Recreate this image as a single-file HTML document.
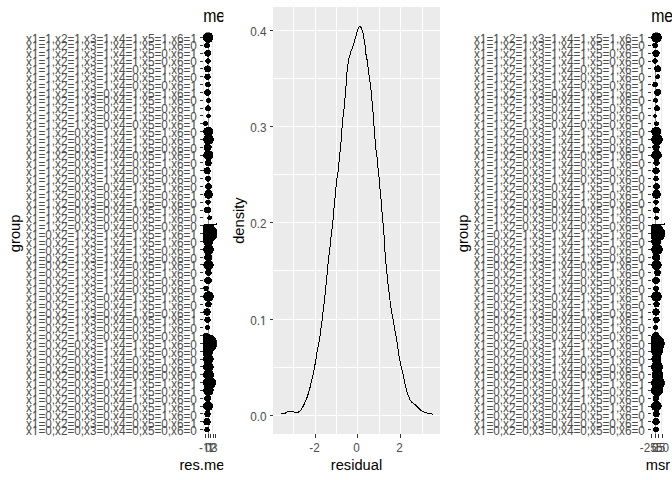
<!DOCTYPE html>
<html><head><meta charset="utf-8"><title>plot</title>
<style>html,body{margin:0;padding:0;background:#fff;width:672px;height:480px;overflow:hidden}svg{display:block}</style>
</head><body>
<svg width="672" height="480" viewBox="0 0 672 480" font-family="Liberation Sans, Arial, sans-serif">
<defs><clipPath id="c0"><rect x="203" y="32.4" width="13.9" height="401.6"/></clipPath><clipPath id="c448"><rect x="651" y="32.4" width="13.9" height="401.6"/></clipPath><clipPath id="p1"><rect x="0" y="0" width="223.4" height="480"/></clipPath></defs>
<rect width="672" height="480" fill="#fff"/>
<g clip-path="url(#p1)">
<text transform="translate(203.20,21.50) scale(0.92,1.04)" font-size="17.2" fill="#000">mean</text>
<text transform="translate(19.6,233.4) rotate(-90)" text-anchor="middle" font-size="14.67" fill="#000">group</text>
<text transform="translate(26.03,43.00) scale(1,1.1)" font-size="11.73" fill="#4D4D4D"><tspan x="0.00">x</tspan><tspan x="5.40" font-family="NanumGothic, Liberation Sans, sans-serif" stroke="#4D4D4D" stroke-width="0.3">1</tspan><tspan x="12.39">=</tspan><tspan x="18.77" font-family="NanumGothic, Liberation Sans, sans-serif" stroke="#4D4D4D" stroke-width="0.3">1</tspan><tspan x="25.76">,x2=</tspan><tspan x="47.79" font-family="NanumGothic, Liberation Sans, sans-serif" stroke="#4D4D4D" stroke-width="0.3">1</tspan><tspan x="54.78">,x3=</tspan><tspan x="76.81" font-family="NanumGothic, Liberation Sans, sans-serif" stroke="#4D4D4D" stroke-width="0.3">1</tspan><tspan x="83.81">,x4=</tspan><tspan x="105.83" font-family="NanumGothic, Liberation Sans, sans-serif" stroke="#4D4D4D" stroke-width="0.3">1</tspan><tspan x="112.83">,x5=</tspan><tspan x="134.86" font-family="NanumGothic, Liberation Sans, sans-serif" stroke="#4D4D4D" stroke-width="0.3">1</tspan><tspan x="141.85">,x6=</tspan><tspan x="163.88" font-family="NanumGothic, Liberation Sans, sans-serif" stroke="#4D4D4D" stroke-width="0.3">1</tspan></text>
<text transform="translate(26.03,50.00) scale(1,1.1)" font-size="11.73" fill="#4D4D4D"><tspan x="0.00">x</tspan><tspan x="5.40" font-family="NanumGothic, Liberation Sans, sans-serif" stroke="#4D4D4D" stroke-width="0.3">1</tspan><tspan x="12.39">=</tspan><tspan x="18.77" font-family="NanumGothic, Liberation Sans, sans-serif" stroke="#4D4D4D" stroke-width="0.3">1</tspan><tspan x="25.76">,x2=</tspan><tspan x="47.79" font-family="NanumGothic, Liberation Sans, sans-serif" stroke="#4D4D4D" stroke-width="0.3">1</tspan><tspan x="54.78">,x3=</tspan><tspan x="76.81" font-family="NanumGothic, Liberation Sans, sans-serif" stroke="#4D4D4D" stroke-width="0.3">1</tspan><tspan x="83.81">,x4=</tspan><tspan x="105.83" font-family="NanumGothic, Liberation Sans, sans-serif" stroke="#4D4D4D" stroke-width="0.3">1</tspan><tspan x="112.83">,x5=</tspan><tspan x="134.86" font-family="NanumGothic, Liberation Sans, sans-serif" stroke="#4D4D4D" stroke-width="0.3">1</tspan><tspan x="141.85">,x6=0</tspan></text>
<text transform="translate(26.03,58.00) scale(1,1.1)" font-size="11.73" fill="#4D4D4D"><tspan x="0.00">x</tspan><tspan x="5.40" font-family="NanumGothic, Liberation Sans, sans-serif" stroke="#4D4D4D" stroke-width="0.3">1</tspan><tspan x="12.39">=</tspan><tspan x="18.77" font-family="NanumGothic, Liberation Sans, sans-serif" stroke="#4D4D4D" stroke-width="0.3">1</tspan><tspan x="25.76">,x2=</tspan><tspan x="47.79" font-family="NanumGothic, Liberation Sans, sans-serif" stroke="#4D4D4D" stroke-width="0.3">1</tspan><tspan x="54.78">,x3=</tspan><tspan x="76.81" font-family="NanumGothic, Liberation Sans, sans-serif" stroke="#4D4D4D" stroke-width="0.3">1</tspan><tspan x="83.81">,x4=</tspan><tspan x="105.83" font-family="NanumGothic, Liberation Sans, sans-serif" stroke="#4D4D4D" stroke-width="0.3">1</tspan><tspan x="112.83">,x5=0,x6=</tspan><tspan x="163.88" font-family="NanumGothic, Liberation Sans, sans-serif" stroke="#4D4D4D" stroke-width="0.3">1</tspan></text>
<text transform="translate(26.03,66.00) scale(1,1.1)" font-size="11.73" fill="#4D4D4D"><tspan x="0.00">x</tspan><tspan x="5.40" font-family="NanumGothic, Liberation Sans, sans-serif" stroke="#4D4D4D" stroke-width="0.3">1</tspan><tspan x="12.39">=</tspan><tspan x="18.77" font-family="NanumGothic, Liberation Sans, sans-serif" stroke="#4D4D4D" stroke-width="0.3">1</tspan><tspan x="25.76">,x2=</tspan><tspan x="47.79" font-family="NanumGothic, Liberation Sans, sans-serif" stroke="#4D4D4D" stroke-width="0.3">1</tspan><tspan x="54.78">,x3=</tspan><tspan x="76.81" font-family="NanumGothic, Liberation Sans, sans-serif" stroke="#4D4D4D" stroke-width="0.3">1</tspan><tspan x="83.81">,x4=</tspan><tspan x="105.83" font-family="NanumGothic, Liberation Sans, sans-serif" stroke="#4D4D4D" stroke-width="0.3">1</tspan><tspan x="112.83">,x5=0,x6=0</tspan></text>
<text transform="translate(26.03,74.00) scale(1,1.1)" font-size="11.73" fill="#4D4D4D"><tspan x="0.00">x</tspan><tspan x="5.40" font-family="NanumGothic, Liberation Sans, sans-serif" stroke="#4D4D4D" stroke-width="0.3">1</tspan><tspan x="12.39">=</tspan><tspan x="18.77" font-family="NanumGothic, Liberation Sans, sans-serif" stroke="#4D4D4D" stroke-width="0.3">1</tspan><tspan x="25.76">,x2=</tspan><tspan x="47.79" font-family="NanumGothic, Liberation Sans, sans-serif" stroke="#4D4D4D" stroke-width="0.3">1</tspan><tspan x="54.78">,x3=</tspan><tspan x="76.81" font-family="NanumGothic, Liberation Sans, sans-serif" stroke="#4D4D4D" stroke-width="0.3">1</tspan><tspan x="83.81">,x4=0,x5=</tspan><tspan x="134.86" font-family="NanumGothic, Liberation Sans, sans-serif" stroke="#4D4D4D" stroke-width="0.3">1</tspan><tspan x="141.85">,x6=</tspan><tspan x="163.88" font-family="NanumGothic, Liberation Sans, sans-serif" stroke="#4D4D4D" stroke-width="0.3">1</tspan></text>
<text transform="translate(26.03,82.00) scale(1,1.1)" font-size="11.73" fill="#4D4D4D"><tspan x="0.00">x</tspan><tspan x="5.40" font-family="NanumGothic, Liberation Sans, sans-serif" stroke="#4D4D4D" stroke-width="0.3">1</tspan><tspan x="12.39">=</tspan><tspan x="18.77" font-family="NanumGothic, Liberation Sans, sans-serif" stroke="#4D4D4D" stroke-width="0.3">1</tspan><tspan x="25.76">,x2=</tspan><tspan x="47.79" font-family="NanumGothic, Liberation Sans, sans-serif" stroke="#4D4D4D" stroke-width="0.3">1</tspan><tspan x="54.78">,x3=</tspan><tspan x="76.81" font-family="NanumGothic, Liberation Sans, sans-serif" stroke="#4D4D4D" stroke-width="0.3">1</tspan><tspan x="83.81">,x4=0,x5=</tspan><tspan x="134.86" font-family="NanumGothic, Liberation Sans, sans-serif" stroke="#4D4D4D" stroke-width="0.3">1</tspan><tspan x="141.85">,x6=0</tspan></text>
<text transform="translate(26.03,90.00) scale(1,1.1)" font-size="11.73" fill="#4D4D4D"><tspan x="0.00">x</tspan><tspan x="5.40" font-family="NanumGothic, Liberation Sans, sans-serif" stroke="#4D4D4D" stroke-width="0.3">1</tspan><tspan x="12.39">=</tspan><tspan x="18.77" font-family="NanumGothic, Liberation Sans, sans-serif" stroke="#4D4D4D" stroke-width="0.3">1</tspan><tspan x="25.76">,x2=</tspan><tspan x="47.79" font-family="NanumGothic, Liberation Sans, sans-serif" stroke="#4D4D4D" stroke-width="0.3">1</tspan><tspan x="54.78">,x3=</tspan><tspan x="76.81" font-family="NanumGothic, Liberation Sans, sans-serif" stroke="#4D4D4D" stroke-width="0.3">1</tspan><tspan x="83.81">,x4=0,x5=0,x6=</tspan><tspan x="163.88" font-family="NanumGothic, Liberation Sans, sans-serif" stroke="#4D4D4D" stroke-width="0.3">1</tspan></text>
<text transform="translate(26.03,98.00) scale(1,1.1)" font-size="11.73" fill="#4D4D4D"><tspan x="0.00">x</tspan><tspan x="5.40" font-family="NanumGothic, Liberation Sans, sans-serif" stroke="#4D4D4D" stroke-width="0.3">1</tspan><tspan x="12.39">=</tspan><tspan x="18.77" font-family="NanumGothic, Liberation Sans, sans-serif" stroke="#4D4D4D" stroke-width="0.3">1</tspan><tspan x="25.76">,x2=</tspan><tspan x="47.79" font-family="NanumGothic, Liberation Sans, sans-serif" stroke="#4D4D4D" stroke-width="0.3">1</tspan><tspan x="54.78">,x3=0,x4=</tspan><tspan x="105.83" font-family="NanumGothic, Liberation Sans, sans-serif" stroke="#4D4D4D" stroke-width="0.3">1</tspan><tspan x="112.83">,x5=</tspan><tspan x="134.86" font-family="NanumGothic, Liberation Sans, sans-serif" stroke="#4D4D4D" stroke-width="0.3">1</tspan><tspan x="141.85">,x6=</tspan><tspan x="163.88" font-family="NanumGothic, Liberation Sans, sans-serif" stroke="#4D4D4D" stroke-width="0.3">1</tspan></text>
<text transform="translate(26.03,105.00) scale(1,1.1)" font-size="11.73" fill="#4D4D4D"><tspan x="0.00">x</tspan><tspan x="5.40" font-family="NanumGothic, Liberation Sans, sans-serif" stroke="#4D4D4D" stroke-width="0.3">1</tspan><tspan x="12.39">=</tspan><tspan x="18.77" font-family="NanumGothic, Liberation Sans, sans-serif" stroke="#4D4D4D" stroke-width="0.3">1</tspan><tspan x="25.76">,x2=</tspan><tspan x="47.79" font-family="NanumGothic, Liberation Sans, sans-serif" stroke="#4D4D4D" stroke-width="0.3">1</tspan><tspan x="54.78">,x3=0,x4=</tspan><tspan x="105.83" font-family="NanumGothic, Liberation Sans, sans-serif" stroke="#4D4D4D" stroke-width="0.3">1</tspan><tspan x="112.83">,x5=</tspan><tspan x="134.86" font-family="NanumGothic, Liberation Sans, sans-serif" stroke="#4D4D4D" stroke-width="0.3">1</tspan><tspan x="141.85">,x6=0</tspan></text>
<text transform="translate(26.03,113.00) scale(1,1.1)" font-size="11.73" fill="#4D4D4D"><tspan x="0.00">x</tspan><tspan x="5.40" font-family="NanumGothic, Liberation Sans, sans-serif" stroke="#4D4D4D" stroke-width="0.3">1</tspan><tspan x="12.39">=</tspan><tspan x="18.77" font-family="NanumGothic, Liberation Sans, sans-serif" stroke="#4D4D4D" stroke-width="0.3">1</tspan><tspan x="25.76">,x2=</tspan><tspan x="47.79" font-family="NanumGothic, Liberation Sans, sans-serif" stroke="#4D4D4D" stroke-width="0.3">1</tspan><tspan x="54.78">,x3=0,x4=</tspan><tspan x="105.83" font-family="NanumGothic, Liberation Sans, sans-serif" stroke="#4D4D4D" stroke-width="0.3">1</tspan><tspan x="112.83">,x5=0,x6=</tspan><tspan x="163.88" font-family="NanumGothic, Liberation Sans, sans-serif" stroke="#4D4D4D" stroke-width="0.3">1</tspan></text>
<text transform="translate(26.03,121.00) scale(1,1.1)" font-size="11.73" fill="#4D4D4D"><tspan x="0.00">x</tspan><tspan x="5.40" font-family="NanumGothic, Liberation Sans, sans-serif" stroke="#4D4D4D" stroke-width="0.3">1</tspan><tspan x="12.39">=</tspan><tspan x="18.77" font-family="NanumGothic, Liberation Sans, sans-serif" stroke="#4D4D4D" stroke-width="0.3">1</tspan><tspan x="25.76">,x2=</tspan><tspan x="47.79" font-family="NanumGothic, Liberation Sans, sans-serif" stroke="#4D4D4D" stroke-width="0.3">1</tspan><tspan x="54.78">,x3=0,x4=</tspan><tspan x="105.83" font-family="NanumGothic, Liberation Sans, sans-serif" stroke="#4D4D4D" stroke-width="0.3">1</tspan><tspan x="112.83">,x5=0,x6=0</tspan></text>
<text transform="translate(26.03,129.00) scale(1,1.1)" font-size="11.73" fill="#4D4D4D"><tspan x="0.00">x</tspan><tspan x="5.40" font-family="NanumGothic, Liberation Sans, sans-serif" stroke="#4D4D4D" stroke-width="0.3">1</tspan><tspan x="12.39">=</tspan><tspan x="18.77" font-family="NanumGothic, Liberation Sans, sans-serif" stroke="#4D4D4D" stroke-width="0.3">1</tspan><tspan x="25.76">,x2=</tspan><tspan x="47.79" font-family="NanumGothic, Liberation Sans, sans-serif" stroke="#4D4D4D" stroke-width="0.3">1</tspan><tspan x="54.78">,x3=0,x4=0,x5=0,x6=</tspan><tspan x="163.88" font-family="NanumGothic, Liberation Sans, sans-serif" stroke="#4D4D4D" stroke-width="0.3">1</tspan></text>
<text transform="translate(26.03,137.00) scale(1,1.1)" font-size="11.73" fill="#4D4D4D"><tspan x="0.00">x</tspan><tspan x="5.40" font-family="NanumGothic, Liberation Sans, sans-serif" stroke="#4D4D4D" stroke-width="0.3">1</tspan><tspan x="12.39">=</tspan><tspan x="18.77" font-family="NanumGothic, Liberation Sans, sans-serif" stroke="#4D4D4D" stroke-width="0.3">1</tspan><tspan x="25.76">,x2=0,x3=</tspan><tspan x="76.81" font-family="NanumGothic, Liberation Sans, sans-serif" stroke="#4D4D4D" stroke-width="0.3">1</tspan><tspan x="83.81">,x4=</tspan><tspan x="105.83" font-family="NanumGothic, Liberation Sans, sans-serif" stroke="#4D4D4D" stroke-width="0.3">1</tspan><tspan x="112.83">,x5=</tspan><tspan x="134.86" font-family="NanumGothic, Liberation Sans, sans-serif" stroke="#4D4D4D" stroke-width="0.3">1</tspan><tspan x="141.85">,x6=0</tspan></text>
<text transform="translate(26.03,145.00) scale(1,1.1)" font-size="11.73" fill="#4D4D4D"><tspan x="0.00">x</tspan><tspan x="5.40" font-family="NanumGothic, Liberation Sans, sans-serif" stroke="#4D4D4D" stroke-width="0.3">1</tspan><tspan x="12.39">=</tspan><tspan x="18.77" font-family="NanumGothic, Liberation Sans, sans-serif" stroke="#4D4D4D" stroke-width="0.3">1</tspan><tspan x="25.76">,x2=0,x3=</tspan><tspan x="76.81" font-family="NanumGothic, Liberation Sans, sans-serif" stroke="#4D4D4D" stroke-width="0.3">1</tspan><tspan x="83.81">,x4=</tspan><tspan x="105.83" font-family="NanumGothic, Liberation Sans, sans-serif" stroke="#4D4D4D" stroke-width="0.3">1</tspan><tspan x="112.83">,x5=0,x6=</tspan><tspan x="163.88" font-family="NanumGothic, Liberation Sans, sans-serif" stroke="#4D4D4D" stroke-width="0.3">1</tspan></text>
<text transform="translate(26.03,153.00) scale(1,1.1)" font-size="11.73" fill="#4D4D4D"><tspan x="0.00">x</tspan><tspan x="5.40" font-family="NanumGothic, Liberation Sans, sans-serif" stroke="#4D4D4D" stroke-width="0.3">1</tspan><tspan x="12.39">=</tspan><tspan x="18.77" font-family="NanumGothic, Liberation Sans, sans-serif" stroke="#4D4D4D" stroke-width="0.3">1</tspan><tspan x="25.76">,x2=0,x3=</tspan><tspan x="76.81" font-family="NanumGothic, Liberation Sans, sans-serif" stroke="#4D4D4D" stroke-width="0.3">1</tspan><tspan x="83.81">,x4=</tspan><tspan x="105.83" font-family="NanumGothic, Liberation Sans, sans-serif" stroke="#4D4D4D" stroke-width="0.3">1</tspan><tspan x="112.83">,x5=0,x6=0</tspan></text>
<text transform="translate(26.03,160.00) scale(1,1.1)" font-size="11.73" fill="#4D4D4D"><tspan x="0.00">x</tspan><tspan x="5.40" font-family="NanumGothic, Liberation Sans, sans-serif" stroke="#4D4D4D" stroke-width="0.3">1</tspan><tspan x="12.39">=</tspan><tspan x="18.77" font-family="NanumGothic, Liberation Sans, sans-serif" stroke="#4D4D4D" stroke-width="0.3">1</tspan><tspan x="25.76">,x2=0,x3=</tspan><tspan x="76.81" font-family="NanumGothic, Liberation Sans, sans-serif" stroke="#4D4D4D" stroke-width="0.3">1</tspan><tspan x="83.81">,x4=0,x5=</tspan><tspan x="134.86" font-family="NanumGothic, Liberation Sans, sans-serif" stroke="#4D4D4D" stroke-width="0.3">1</tspan><tspan x="141.85">,x6=</tspan><tspan x="163.88" font-family="NanumGothic, Liberation Sans, sans-serif" stroke="#4D4D4D" stroke-width="0.3">1</tspan></text>
<text transform="translate(26.03,168.00) scale(1,1.1)" font-size="11.73" fill="#4D4D4D"><tspan x="0.00">x</tspan><tspan x="5.40" font-family="NanumGothic, Liberation Sans, sans-serif" stroke="#4D4D4D" stroke-width="0.3">1</tspan><tspan x="12.39">=</tspan><tspan x="18.77" font-family="NanumGothic, Liberation Sans, sans-serif" stroke="#4D4D4D" stroke-width="0.3">1</tspan><tspan x="25.76">,x2=0,x3=</tspan><tspan x="76.81" font-family="NanumGothic, Liberation Sans, sans-serif" stroke="#4D4D4D" stroke-width="0.3">1</tspan><tspan x="83.81">,x4=0,x5=</tspan><tspan x="134.86" font-family="NanumGothic, Liberation Sans, sans-serif" stroke="#4D4D4D" stroke-width="0.3">1</tspan><tspan x="141.85">,x6=0</tspan></text>
<text transform="translate(26.03,176.00) scale(1,1.1)" font-size="11.73" fill="#4D4D4D"><tspan x="0.00">x</tspan><tspan x="5.40" font-family="NanumGothic, Liberation Sans, sans-serif" stroke="#4D4D4D" stroke-width="0.3">1</tspan><tspan x="12.39">=</tspan><tspan x="18.77" font-family="NanumGothic, Liberation Sans, sans-serif" stroke="#4D4D4D" stroke-width="0.3">1</tspan><tspan x="25.76">,x2=0,x3=</tspan><tspan x="76.81" font-family="NanumGothic, Liberation Sans, sans-serif" stroke="#4D4D4D" stroke-width="0.3">1</tspan><tspan x="83.81">,x4=0,x5=0,x6=</tspan><tspan x="163.88" font-family="NanumGothic, Liberation Sans, sans-serif" stroke="#4D4D4D" stroke-width="0.3">1</tspan></text>
<text transform="translate(26.03,184.00) scale(1,1.1)" font-size="11.73" fill="#4D4D4D"><tspan x="0.00">x</tspan><tspan x="5.40" font-family="NanumGothic, Liberation Sans, sans-serif" stroke="#4D4D4D" stroke-width="0.3">1</tspan><tspan x="12.39">=</tspan><tspan x="18.77" font-family="NanumGothic, Liberation Sans, sans-serif" stroke="#4D4D4D" stroke-width="0.3">1</tspan><tspan x="25.76">,x2=0,x3=</tspan><tspan x="76.81" font-family="NanumGothic, Liberation Sans, sans-serif" stroke="#4D4D4D" stroke-width="0.3">1</tspan><tspan x="83.81">,x4=0,x5=0,x6=0</tspan></text>
<text transform="translate(26.03,192.00) scale(1,1.1)" font-size="11.73" fill="#4D4D4D"><tspan x="0.00">x</tspan><tspan x="5.40" font-family="NanumGothic, Liberation Sans, sans-serif" stroke="#4D4D4D" stroke-width="0.3">1</tspan><tspan x="12.39">=</tspan><tspan x="18.77" font-family="NanumGothic, Liberation Sans, sans-serif" stroke="#4D4D4D" stroke-width="0.3">1</tspan><tspan x="25.76">,x2=0,x3=0,x4=</tspan><tspan x="105.83" font-family="NanumGothic, Liberation Sans, sans-serif" stroke="#4D4D4D" stroke-width="0.3">1</tspan><tspan x="112.83">,x5=</tspan><tspan x="134.86" font-family="NanumGothic, Liberation Sans, sans-serif" stroke="#4D4D4D" stroke-width="0.3">1</tspan><tspan x="141.85">,x6=0</tspan></text>
<text transform="translate(26.03,200.00) scale(1,1.1)" font-size="11.73" fill="#4D4D4D"><tspan x="0.00">x</tspan><tspan x="5.40" font-family="NanumGothic, Liberation Sans, sans-serif" stroke="#4D4D4D" stroke-width="0.3">1</tspan><tspan x="12.39">=</tspan><tspan x="18.77" font-family="NanumGothic, Liberation Sans, sans-serif" stroke="#4D4D4D" stroke-width="0.3">1</tspan><tspan x="25.76">,x2=0,x3=0,x4=</tspan><tspan x="105.83" font-family="NanumGothic, Liberation Sans, sans-serif" stroke="#4D4D4D" stroke-width="0.3">1</tspan><tspan x="112.83">,x5=0,x6=</tspan><tspan x="163.88" font-family="NanumGothic, Liberation Sans, sans-serif" stroke="#4D4D4D" stroke-width="0.3">1</tspan></text>
<text transform="translate(26.03,208.00) scale(1,1.1)" font-size="11.73" fill="#4D4D4D"><tspan x="0.00">x</tspan><tspan x="5.40" font-family="NanumGothic, Liberation Sans, sans-serif" stroke="#4D4D4D" stroke-width="0.3">1</tspan><tspan x="12.39">=</tspan><tspan x="18.77" font-family="NanumGothic, Liberation Sans, sans-serif" stroke="#4D4D4D" stroke-width="0.3">1</tspan><tspan x="25.76">,x2=0,x3=0,x4=</tspan><tspan x="105.83" font-family="NanumGothic, Liberation Sans, sans-serif" stroke="#4D4D4D" stroke-width="0.3">1</tspan><tspan x="112.83">,x5=0,x6=0</tspan></text>
<text transform="translate(26.03,215.00) scale(1,1.1)" font-size="11.73" fill="#4D4D4D"><tspan x="0.00">x</tspan><tspan x="5.40" font-family="NanumGothic, Liberation Sans, sans-serif" stroke="#4D4D4D" stroke-width="0.3">1</tspan><tspan x="12.39">=</tspan><tspan x="18.77" font-family="NanumGothic, Liberation Sans, sans-serif" stroke="#4D4D4D" stroke-width="0.3">1</tspan><tspan x="25.76">,x2=0,x3=0,x4=0,x5=</tspan><tspan x="134.86" font-family="NanumGothic, Liberation Sans, sans-serif" stroke="#4D4D4D" stroke-width="0.3">1</tspan><tspan x="141.85">,x6=</tspan><tspan x="163.88" font-family="NanumGothic, Liberation Sans, sans-serif" stroke="#4D4D4D" stroke-width="0.3">1</tspan></text>
<text transform="translate(26.03,223.00) scale(1,1.1)" font-size="11.73" fill="#4D4D4D"><tspan x="0.00">x</tspan><tspan x="5.40" font-family="NanumGothic, Liberation Sans, sans-serif" stroke="#4D4D4D" stroke-width="0.3">1</tspan><tspan x="12.39">=</tspan><tspan x="18.77" font-family="NanumGothic, Liberation Sans, sans-serif" stroke="#4D4D4D" stroke-width="0.3">1</tspan><tspan x="25.76">,x2=0,x3=0,x4=0,x5=</tspan><tspan x="134.86" font-family="NanumGothic, Liberation Sans, sans-serif" stroke="#4D4D4D" stroke-width="0.3">1</tspan><tspan x="141.85">,x6=0</tspan></text>
<text transform="translate(26.03,231.00) scale(1,1.1)" font-size="11.73" fill="#4D4D4D"><tspan x="0.00">x</tspan><tspan x="5.40" font-family="NanumGothic, Liberation Sans, sans-serif" stroke="#4D4D4D" stroke-width="0.3">1</tspan><tspan x="12.39">=</tspan><tspan x="18.77" font-family="NanumGothic, Liberation Sans, sans-serif" stroke="#4D4D4D" stroke-width="0.3">1</tspan><tspan x="25.76">,x2=0,x3=0,x4=0,x5=0,x6=0</tspan></text>
<text transform="translate(26.03,239.00) scale(1,1.1)" font-size="11.73" fill="#4D4D4D"><tspan x="0.00">x</tspan><tspan x="5.40" font-family="NanumGothic, Liberation Sans, sans-serif" stroke="#4D4D4D" stroke-width="0.3">1</tspan><tspan x="12.39">=0,x2=</tspan><tspan x="47.79" font-family="NanumGothic, Liberation Sans, sans-serif" stroke="#4D4D4D" stroke-width="0.3">1</tspan><tspan x="54.78">,x3=</tspan><tspan x="76.81" font-family="NanumGothic, Liberation Sans, sans-serif" stroke="#4D4D4D" stroke-width="0.3">1</tspan><tspan x="83.81">,x4=</tspan><tspan x="105.83" font-family="NanumGothic, Liberation Sans, sans-serif" stroke="#4D4D4D" stroke-width="0.3">1</tspan><tspan x="112.83">,x5=</tspan><tspan x="134.86" font-family="NanumGothic, Liberation Sans, sans-serif" stroke="#4D4D4D" stroke-width="0.3">1</tspan><tspan x="141.85">,x6=</tspan><tspan x="163.88" font-family="NanumGothic, Liberation Sans, sans-serif" stroke="#4D4D4D" stroke-width="0.3">1</tspan></text>
<text transform="translate(26.03,247.00) scale(1,1.1)" font-size="11.73" fill="#4D4D4D"><tspan x="0.00">x</tspan><tspan x="5.40" font-family="NanumGothic, Liberation Sans, sans-serif" stroke="#4D4D4D" stroke-width="0.3">1</tspan><tspan x="12.39">=0,x2=</tspan><tspan x="47.79" font-family="NanumGothic, Liberation Sans, sans-serif" stroke="#4D4D4D" stroke-width="0.3">1</tspan><tspan x="54.78">,x3=</tspan><tspan x="76.81" font-family="NanumGothic, Liberation Sans, sans-serif" stroke="#4D4D4D" stroke-width="0.3">1</tspan><tspan x="83.81">,x4=</tspan><tspan x="105.83" font-family="NanumGothic, Liberation Sans, sans-serif" stroke="#4D4D4D" stroke-width="0.3">1</tspan><tspan x="112.83">,x5=</tspan><tspan x="134.86" font-family="NanumGothic, Liberation Sans, sans-serif" stroke="#4D4D4D" stroke-width="0.3">1</tspan><tspan x="141.85">,x6=0</tspan></text>
<text transform="translate(26.03,255.00) scale(1,1.1)" font-size="11.73" fill="#4D4D4D"><tspan x="0.00">x</tspan><tspan x="5.40" font-family="NanumGothic, Liberation Sans, sans-serif" stroke="#4D4D4D" stroke-width="0.3">1</tspan><tspan x="12.39">=0,x2=</tspan><tspan x="47.79" font-family="NanumGothic, Liberation Sans, sans-serif" stroke="#4D4D4D" stroke-width="0.3">1</tspan><tspan x="54.78">,x3=</tspan><tspan x="76.81" font-family="NanumGothic, Liberation Sans, sans-serif" stroke="#4D4D4D" stroke-width="0.3">1</tspan><tspan x="83.81">,x4=</tspan><tspan x="105.83" font-family="NanumGothic, Liberation Sans, sans-serif" stroke="#4D4D4D" stroke-width="0.3">1</tspan><tspan x="112.83">,x5=0,x6=</tspan><tspan x="163.88" font-family="NanumGothic, Liberation Sans, sans-serif" stroke="#4D4D4D" stroke-width="0.3">1</tspan></text>
<text transform="translate(26.03,263.00) scale(1,1.1)" font-size="11.73" fill="#4D4D4D"><tspan x="0.00">x</tspan><tspan x="5.40" font-family="NanumGothic, Liberation Sans, sans-serif" stroke="#4D4D4D" stroke-width="0.3">1</tspan><tspan x="12.39">=0,x2=</tspan><tspan x="47.79" font-family="NanumGothic, Liberation Sans, sans-serif" stroke="#4D4D4D" stroke-width="0.3">1</tspan><tspan x="54.78">,x3=</tspan><tspan x="76.81" font-family="NanumGothic, Liberation Sans, sans-serif" stroke="#4D4D4D" stroke-width="0.3">1</tspan><tspan x="83.81">,x4=</tspan><tspan x="105.83" font-family="NanumGothic, Liberation Sans, sans-serif" stroke="#4D4D4D" stroke-width="0.3">1</tspan><tspan x="112.83">,x5=0,x6=0</tspan></text>
<text transform="translate(26.03,270.00) scale(1,1.1)" font-size="11.73" fill="#4D4D4D"><tspan x="0.00">x</tspan><tspan x="5.40" font-family="NanumGothic, Liberation Sans, sans-serif" stroke="#4D4D4D" stroke-width="0.3">1</tspan><tspan x="12.39">=0,x2=</tspan><tspan x="47.79" font-family="NanumGothic, Liberation Sans, sans-serif" stroke="#4D4D4D" stroke-width="0.3">1</tspan><tspan x="54.78">,x3=</tspan><tspan x="76.81" font-family="NanumGothic, Liberation Sans, sans-serif" stroke="#4D4D4D" stroke-width="0.3">1</tspan><tspan x="83.81">,x4=0,x5=</tspan><tspan x="134.86" font-family="NanumGothic, Liberation Sans, sans-serif" stroke="#4D4D4D" stroke-width="0.3">1</tspan><tspan x="141.85">,x6=</tspan><tspan x="163.88" font-family="NanumGothic, Liberation Sans, sans-serif" stroke="#4D4D4D" stroke-width="0.3">1</tspan></text>
<text transform="translate(26.03,278.00) scale(1,1.1)" font-size="11.73" fill="#4D4D4D"><tspan x="0.00">x</tspan><tspan x="5.40" font-family="NanumGothic, Liberation Sans, sans-serif" stroke="#4D4D4D" stroke-width="0.3">1</tspan><tspan x="12.39">=0,x2=</tspan><tspan x="47.79" font-family="NanumGothic, Liberation Sans, sans-serif" stroke="#4D4D4D" stroke-width="0.3">1</tspan><tspan x="54.78">,x3=</tspan><tspan x="76.81" font-family="NanumGothic, Liberation Sans, sans-serif" stroke="#4D4D4D" stroke-width="0.3">1</tspan><tspan x="83.81">,x4=0,x5=</tspan><tspan x="134.86" font-family="NanumGothic, Liberation Sans, sans-serif" stroke="#4D4D4D" stroke-width="0.3">1</tspan><tspan x="141.85">,x6=0</tspan></text>
<text transform="translate(26.03,286.00) scale(1,1.1)" font-size="11.73" fill="#4D4D4D"><tspan x="0.00">x</tspan><tspan x="5.40" font-family="NanumGothic, Liberation Sans, sans-serif" stroke="#4D4D4D" stroke-width="0.3">1</tspan><tspan x="12.39">=0,x2=</tspan><tspan x="47.79" font-family="NanumGothic, Liberation Sans, sans-serif" stroke="#4D4D4D" stroke-width="0.3">1</tspan><tspan x="54.78">,x3=</tspan><tspan x="76.81" font-family="NanumGothic, Liberation Sans, sans-serif" stroke="#4D4D4D" stroke-width="0.3">1</tspan><tspan x="83.81">,x4=0,x5=0,x6=</tspan><tspan x="163.88" font-family="NanumGothic, Liberation Sans, sans-serif" stroke="#4D4D4D" stroke-width="0.3">1</tspan></text>
<text transform="translate(26.03,294.00) scale(1,1.1)" font-size="11.73" fill="#4D4D4D"><tspan x="0.00">x</tspan><tspan x="5.40" font-family="NanumGothic, Liberation Sans, sans-serif" stroke="#4D4D4D" stroke-width="0.3">1</tspan><tspan x="12.39">=0,x2=</tspan><tspan x="47.79" font-family="NanumGothic, Liberation Sans, sans-serif" stroke="#4D4D4D" stroke-width="0.3">1</tspan><tspan x="54.78">,x3=</tspan><tspan x="76.81" font-family="NanumGothic, Liberation Sans, sans-serif" stroke="#4D4D4D" stroke-width="0.3">1</tspan><tspan x="83.81">,x4=0,x5=0,x6=0</tspan></text>
<text transform="translate(26.03,302.00) scale(1,1.1)" font-size="11.73" fill="#4D4D4D"><tspan x="0.00">x</tspan><tspan x="5.40" font-family="NanumGothic, Liberation Sans, sans-serif" stroke="#4D4D4D" stroke-width="0.3">1</tspan><tspan x="12.39">=0,x2=</tspan><tspan x="47.79" font-family="NanumGothic, Liberation Sans, sans-serif" stroke="#4D4D4D" stroke-width="0.3">1</tspan><tspan x="54.78">,x3=0,x4=</tspan><tspan x="105.83" font-family="NanumGothic, Liberation Sans, sans-serif" stroke="#4D4D4D" stroke-width="0.3">1</tspan><tspan x="112.83">,x5=</tspan><tspan x="134.86" font-family="NanumGothic, Liberation Sans, sans-serif" stroke="#4D4D4D" stroke-width="0.3">1</tspan><tspan x="141.85">,x6=</tspan><tspan x="163.88" font-family="NanumGothic, Liberation Sans, sans-serif" stroke="#4D4D4D" stroke-width="0.3">1</tspan></text>
<text transform="translate(26.03,310.00) scale(1,1.1)" font-size="11.73" fill="#4D4D4D"><tspan x="0.00">x</tspan><tspan x="5.40" font-family="NanumGothic, Liberation Sans, sans-serif" stroke="#4D4D4D" stroke-width="0.3">1</tspan><tspan x="12.39">=0,x2=</tspan><tspan x="47.79" font-family="NanumGothic, Liberation Sans, sans-serif" stroke="#4D4D4D" stroke-width="0.3">1</tspan><tspan x="54.78">,x3=0,x4=</tspan><tspan x="105.83" font-family="NanumGothic, Liberation Sans, sans-serif" stroke="#4D4D4D" stroke-width="0.3">1</tspan><tspan x="112.83">,x5=</tspan><tspan x="134.86" font-family="NanumGothic, Liberation Sans, sans-serif" stroke="#4D4D4D" stroke-width="0.3">1</tspan><tspan x="141.85">,x6=0</tspan></text>
<text transform="translate(26.03,318.00) scale(1,1.1)" font-size="11.73" fill="#4D4D4D"><tspan x="0.00">x</tspan><tspan x="5.40" font-family="NanumGothic, Liberation Sans, sans-serif" stroke="#4D4D4D" stroke-width="0.3">1</tspan><tspan x="12.39">=0,x2=</tspan><tspan x="47.79" font-family="NanumGothic, Liberation Sans, sans-serif" stroke="#4D4D4D" stroke-width="0.3">1</tspan><tspan x="54.78">,x3=0,x4=</tspan><tspan x="105.83" font-family="NanumGothic, Liberation Sans, sans-serif" stroke="#4D4D4D" stroke-width="0.3">1</tspan><tspan x="112.83">,x5=0,x6=</tspan><tspan x="163.88" font-family="NanumGothic, Liberation Sans, sans-serif" stroke="#4D4D4D" stroke-width="0.3">1</tspan></text>
<text transform="translate(26.03,325.00) scale(1,1.1)" font-size="11.73" fill="#4D4D4D"><tspan x="0.00">x</tspan><tspan x="5.40" font-family="NanumGothic, Liberation Sans, sans-serif" stroke="#4D4D4D" stroke-width="0.3">1</tspan><tspan x="12.39">=0,x2=</tspan><tspan x="47.79" font-family="NanumGothic, Liberation Sans, sans-serif" stroke="#4D4D4D" stroke-width="0.3">1</tspan><tspan x="54.78">,x3=0,x4=0,x5=</tspan><tspan x="134.86" font-family="NanumGothic, Liberation Sans, sans-serif" stroke="#4D4D4D" stroke-width="0.3">1</tspan><tspan x="141.85">,x6=</tspan><tspan x="163.88" font-family="NanumGothic, Liberation Sans, sans-serif" stroke="#4D4D4D" stroke-width="0.3">1</tspan></text>
<text transform="translate(26.03,333.00) scale(1,1.1)" font-size="11.73" fill="#4D4D4D"><tspan x="0.00">x</tspan><tspan x="5.40" font-family="NanumGothic, Liberation Sans, sans-serif" stroke="#4D4D4D" stroke-width="0.3">1</tspan><tspan x="12.39">=0,x2=</tspan><tspan x="47.79" font-family="NanumGothic, Liberation Sans, sans-serif" stroke="#4D4D4D" stroke-width="0.3">1</tspan><tspan x="54.78">,x3=0,x4=0,x5=</tspan><tspan x="134.86" font-family="NanumGothic, Liberation Sans, sans-serif" stroke="#4D4D4D" stroke-width="0.3">1</tspan><tspan x="141.85">,x6=0</tspan></text>
<text transform="translate(26.03,341.00) scale(1,1.1)" font-size="11.73" fill="#4D4D4D"><tspan x="0.00">x</tspan><tspan x="5.40" font-family="NanumGothic, Liberation Sans, sans-serif" stroke="#4D4D4D" stroke-width="0.3">1</tspan><tspan x="12.39">=0,x2=</tspan><tspan x="47.79" font-family="NanumGothic, Liberation Sans, sans-serif" stroke="#4D4D4D" stroke-width="0.3">1</tspan><tspan x="54.78">,x3=0,x4=0,x5=0,x6=</tspan><tspan x="163.88" font-family="NanumGothic, Liberation Sans, sans-serif" stroke="#4D4D4D" stroke-width="0.3">1</tspan></text>
<text transform="translate(26.03,349.00) scale(1,1.1)" font-size="11.73" fill="#4D4D4D"><tspan x="0.00">x</tspan><tspan x="5.40" font-family="NanumGothic, Liberation Sans, sans-serif" stroke="#4D4D4D" stroke-width="0.3">1</tspan><tspan x="12.39">=0,x2=0,x3=</tspan><tspan x="76.81" font-family="NanumGothic, Liberation Sans, sans-serif" stroke="#4D4D4D" stroke-width="0.3">1</tspan><tspan x="83.81">,x4=</tspan><tspan x="105.83" font-family="NanumGothic, Liberation Sans, sans-serif" stroke="#4D4D4D" stroke-width="0.3">1</tspan><tspan x="112.83">,x5=</tspan><tspan x="134.86" font-family="NanumGothic, Liberation Sans, sans-serif" stroke="#4D4D4D" stroke-width="0.3">1</tspan><tspan x="141.85">,x6=0</tspan></text>
<text transform="translate(26.03,357.00) scale(1,1.1)" font-size="11.73" fill="#4D4D4D"><tspan x="0.00">x</tspan><tspan x="5.40" font-family="NanumGothic, Liberation Sans, sans-serif" stroke="#4D4D4D" stroke-width="0.3">1</tspan><tspan x="12.39">=0,x2=0,x3=</tspan><tspan x="76.81" font-family="NanumGothic, Liberation Sans, sans-serif" stroke="#4D4D4D" stroke-width="0.3">1</tspan><tspan x="83.81">,x4=</tspan><tspan x="105.83" font-family="NanumGothic, Liberation Sans, sans-serif" stroke="#4D4D4D" stroke-width="0.3">1</tspan><tspan x="112.83">,x5=0,x6=0</tspan></text>
<text transform="translate(26.03,365.00) scale(1,1.1)" font-size="11.73" fill="#4D4D4D"><tspan x="0.00">x</tspan><tspan x="5.40" font-family="NanumGothic, Liberation Sans, sans-serif" stroke="#4D4D4D" stroke-width="0.3">1</tspan><tspan x="12.39">=0,x2=0,x3=</tspan><tspan x="76.81" font-family="NanumGothic, Liberation Sans, sans-serif" stroke="#4D4D4D" stroke-width="0.3">1</tspan><tspan x="83.81">,x4=0,x5=</tspan><tspan x="134.86" font-family="NanumGothic, Liberation Sans, sans-serif" stroke="#4D4D4D" stroke-width="0.3">1</tspan><tspan x="141.85">,x6=0</tspan></text>
<text transform="translate(26.03,373.00) scale(1,1.1)" font-size="11.73" fill="#4D4D4D"><tspan x="0.00">x</tspan><tspan x="5.40" font-family="NanumGothic, Liberation Sans, sans-serif" stroke="#4D4D4D" stroke-width="0.3">1</tspan><tspan x="12.39">=0,x2=0,x3=</tspan><tspan x="76.81" font-family="NanumGothic, Liberation Sans, sans-serif" stroke="#4D4D4D" stroke-width="0.3">1</tspan><tspan x="83.81">,x4=0,x5=0,x6=</tspan><tspan x="163.88" font-family="NanumGothic, Liberation Sans, sans-serif" stroke="#4D4D4D" stroke-width="0.3">1</tspan></text>
<text transform="translate(26.03,380.00) scale(1,1.1)" font-size="11.73" fill="#4D4D4D"><tspan x="0.00">x</tspan><tspan x="5.40" font-family="NanumGothic, Liberation Sans, sans-serif" stroke="#4D4D4D" stroke-width="0.3">1</tspan><tspan x="12.39">=0,x2=0,x3=</tspan><tspan x="76.81" font-family="NanumGothic, Liberation Sans, sans-serif" stroke="#4D4D4D" stroke-width="0.3">1</tspan><tspan x="83.81">,x4=0,x5=0,x6=0</tspan></text>
<text transform="translate(26.03,388.00) scale(1,1.1)" font-size="11.73" fill="#4D4D4D"><tspan x="0.00">x</tspan><tspan x="5.40" font-family="NanumGothic, Liberation Sans, sans-serif" stroke="#4D4D4D" stroke-width="0.3">1</tspan><tspan x="12.39">=0,x2=0,x3=0,x4=</tspan><tspan x="105.83" font-family="NanumGothic, Liberation Sans, sans-serif" stroke="#4D4D4D" stroke-width="0.3">1</tspan><tspan x="112.83">,x5=</tspan><tspan x="134.86" font-family="NanumGothic, Liberation Sans, sans-serif" stroke="#4D4D4D" stroke-width="0.3">1</tspan><tspan x="141.85">,x6=</tspan><tspan x="163.88" font-family="NanumGothic, Liberation Sans, sans-serif" stroke="#4D4D4D" stroke-width="0.3">1</tspan></text>
<text transform="translate(26.03,396.00) scale(1,1.1)" font-size="11.73" fill="#4D4D4D"><tspan x="0.00">x</tspan><tspan x="5.40" font-family="NanumGothic, Liberation Sans, sans-serif" stroke="#4D4D4D" stroke-width="0.3">1</tspan><tspan x="12.39">=0,x2=0,x3=0,x4=</tspan><tspan x="105.83" font-family="NanumGothic, Liberation Sans, sans-serif" stroke="#4D4D4D" stroke-width="0.3">1</tspan><tspan x="112.83">,x5=0,x6=</tspan><tspan x="163.88" font-family="NanumGothic, Liberation Sans, sans-serif" stroke="#4D4D4D" stroke-width="0.3">1</tspan></text>
<text transform="translate(26.03,404.00) scale(1,1.1)" font-size="11.73" fill="#4D4D4D"><tspan x="0.00">x</tspan><tspan x="5.40" font-family="NanumGothic, Liberation Sans, sans-serif" stroke="#4D4D4D" stroke-width="0.3">1</tspan><tspan x="12.39">=0,x2=0,x3=0,x4=</tspan><tspan x="105.83" font-family="NanumGothic, Liberation Sans, sans-serif" stroke="#4D4D4D" stroke-width="0.3">1</tspan><tspan x="112.83">,x5=0,x6=0</tspan></text>
<text transform="translate(26.03,412.00) scale(1,1.1)" font-size="11.73" fill="#4D4D4D"><tspan x="0.00">x</tspan><tspan x="5.40" font-family="NanumGothic, Liberation Sans, sans-serif" stroke="#4D4D4D" stroke-width="0.3">1</tspan><tspan x="12.39">=0,x2=0,x3=0,x4=0,x5=</tspan><tspan x="134.86" font-family="NanumGothic, Liberation Sans, sans-serif" stroke="#4D4D4D" stroke-width="0.3">1</tspan><tspan x="141.85">,x6=</tspan><tspan x="163.88" font-family="NanumGothic, Liberation Sans, sans-serif" stroke="#4D4D4D" stroke-width="0.3">1</tspan></text>
<text transform="translate(26.03,420.00) scale(1,1.1)" font-size="11.73" fill="#4D4D4D"><tspan x="0.00">x</tspan><tspan x="5.40" font-family="NanumGothic, Liberation Sans, sans-serif" stroke="#4D4D4D" stroke-width="0.3">1</tspan><tspan x="12.39">=0,x2=0,x3=0,x4=0,x5=</tspan><tspan x="134.86" font-family="NanumGothic, Liberation Sans, sans-serif" stroke="#4D4D4D" stroke-width="0.3">1</tspan><tspan x="141.85">,x6=0</tspan></text>
<text transform="translate(26.03,428.00) scale(1,1.1)" font-size="11.73" fill="#4D4D4D"><tspan x="0.00">x</tspan><tspan x="5.40" font-family="NanumGothic, Liberation Sans, sans-serif" stroke="#4D4D4D" stroke-width="0.3">1</tspan><tspan x="12.39">=0,x2=0,x3=0,x4=0,x5=0,x6=</tspan><tspan x="163.88" font-family="NanumGothic, Liberation Sans, sans-serif" stroke="#4D4D4D" stroke-width="0.3">1</tspan></text>
<text transform="translate(26.03,435.00) scale(1,1.1)" font-size="11.73" fill="#4D4D4D"><tspan x="0.00">x</tspan><tspan x="5.40" font-family="NanumGothic, Liberation Sans, sans-serif" stroke="#4D4D4D" stroke-width="0.3">1</tspan><tspan x="12.39">=0,x2=0,x3=0,x4=0,x5=0,x6=0</tspan></text>
<g fill="#333">
<rect x="200" y="37" width="3" height="1"/>
<rect x="200" y="45" width="3" height="1"/>
<rect x="200" y="53" width="3" height="1"/>
<rect x="200" y="61" width="3" height="1"/>
<rect x="200" y="68" width="3" height="1"/>
<rect x="200" y="76" width="3" height="1"/>
<rect x="200" y="84" width="3" height="1"/>
<rect x="200" y="92" width="3" height="1"/>
<rect x="200" y="100" width="3" height="1"/>
<rect x="200" y="108" width="3" height="1"/>
<rect x="200" y="115" width="3" height="1"/>
<rect x="200" y="123" width="3" height="1"/>
<rect x="200" y="131" width="3" height="1"/>
<rect x="200" y="139" width="3" height="1"/>
<rect x="200" y="147" width="3" height="1"/>
<rect x="200" y="155" width="3" height="1"/>
<rect x="200" y="162" width="3" height="1"/>
<rect x="200" y="170" width="3" height="1"/>
<rect x="200" y="178" width="3" height="1"/>
<rect x="200" y="186" width="3" height="1"/>
<rect x="200" y="194" width="3" height="1"/>
<rect x="200" y="202" width="3" height="1"/>
<rect x="200" y="210" width="3" height="1"/>
<rect x="200" y="217" width="3" height="1"/>
<rect x="200" y="225" width="3" height="1"/>
<rect x="200" y="233" width="3" height="1"/>
<rect x="200" y="241" width="3" height="1"/>
<rect x="200" y="249" width="3" height="1"/>
<rect x="200" y="257" width="3" height="1"/>
<rect x="200" y="264" width="3" height="1"/>
<rect x="200" y="272" width="3" height="1"/>
<rect x="200" y="280" width="3" height="1"/>
<rect x="200" y="288" width="3" height="1"/>
<rect x="200" y="296" width="3" height="1"/>
<rect x="200" y="304" width="3" height="1"/>
<rect x="200" y="312" width="3" height="1"/>
<rect x="200" y="319" width="3" height="1"/>
<rect x="200" y="327" width="3" height="1"/>
<rect x="200" y="335" width="3" height="1"/>
<rect x="200" y="343" width="3" height="1"/>
<rect x="200" y="351" width="3" height="1"/>
<rect x="200" y="359" width="3" height="1"/>
<rect x="200" y="366" width="3" height="1"/>
<rect x="200" y="374" width="3" height="1"/>
<rect x="200" y="382" width="3" height="1"/>
<rect x="200" y="390" width="3" height="1"/>
<rect x="200" y="398" width="3" height="1"/>
<rect x="200" y="406" width="3" height="1"/>
<rect x="200" y="413" width="3" height="1"/>
<rect x="200" y="421" width="3" height="1"/>
<rect x="200" y="429" width="3" height="1"/>
</g>
<rect x="203" y="32.5" width="1" height="401.5" fill="#EBEBEB"/>
<rect x="212" y="32.5" width="1" height="401.5" fill="#EBEBEB"/>
<rect x="208" y="32.5" width="1" height="401.5" fill="#8c8c8c"/>
<g clip-path="url(#c0)">
<path d="M206 32h4v1h-4zM205 33h7v1h-7zM204 34h8v1h-8zM203 35h10v1h-10zM203 36h10v1h-10zM203 37h10v1h-10zM203 38h10v1h-10zM203 39h10v1h-10zM204 40h8v1h-8zM205 41h7v1h-7zM206 42h4v1h-4z"/>
<path d="M206 42h2v1h-2zM205 43h4v1h-4zM204 44h6v1h-6zM204 45h6v1h-6zM204 46h6v1h-6zM205 47h4v1h-4z"/>
<path d="M206 50h4v1h-4zM205 51h6v1h-6zM204 52h7v1h-7zM204 53h7v1h-7zM205 54h6v1h-6zM205 55h5v1h-5zM207 56h2v1h-2z"/>
<path d="M207 58h2v1h-2zM206 59h4v1h-4zM205 60h6v1h-6zM205 61h6v1h-6zM206 62h4v1h-4zM207 63h2v1h-2z"/>
<path d="M207 65h1v1h-1zM205 66h5v1h-5zM204 67h7v1h-7zM204 68h7v1h-7zM204 69h7v1h-7zM205 70h6v1h-6zM205 71h5v1h-5z"/>
<path d="M205 74h5v1h-5zM205 75h5v1h-5zM204 76h7v1h-7zM204 77h7v1h-7zM205 78h5v1h-5zM206 79h3v1h-3z"/>
<path d="M206 82h4v1h-4zM205 83h5v1h-5zM205 84h6v1h-6zM205 85h6v1h-6zM206 86h4v1h-4z"/>
<path d="M206 89h3v1h-3zM205 90h5v1h-5zM204 91h7v1h-7zM204 92h7v1h-7zM204 93h7v1h-7zM205 94h5v1h-5zM206 95h3v1h-3z"/>
<path d="M207 98h3v1h-3zM206 99h5v1h-5zM206 100h5v1h-5zM206 101h5v1h-5zM207 102h3v1h-3z"/>
<path d="M207 105h2v1h-2zM206 106h4v1h-4zM205 107h6v1h-6zM205 108h6v1h-6zM205 109h6v1h-6zM206 110h4v1h-4z"/>
<path d="M207 114h3v1h-3zM206 115h5v1h-5zM206 116h5v1h-5zM207 117h3v1h-3z"/>
<path d="M204 121h3v1h-3zM203 122h5v1h-5zM203 123h5v1h-5zM203 124h5v1h-5zM204 125h3v1h-3z"/>
<path d="M206 127h5v1h-5zM204 128h8v1h-8zM204 129h9v1h-9zM203 130h10v1h-10zM203 131h10v1h-10zM203 132h10v1h-10zM204 133h9v1h-9zM204 134h8v1h-8zM205 135h6v1h-6zM208 136h1v1h-1z"/>
<path d="M207 134h3v1h-3zM205 135h7v1h-7zM204 136h9v1h-9zM204 137h9v1h-9zM203 138h11v1h-11zM203 139h11v1h-11zM203 140h11v1h-11zM204 141h9v1h-9zM204 142h9v1h-9zM205 143h7v1h-7zM207 144h3v1h-3z"/>
<path d="M207 143h2v1h-2zM205 144h5v1h-5zM204 145h7v1h-7zM204 146h8v1h-8zM204 147h8v1h-8zM204 148h7v1h-7zM204 149h7v1h-7zM205 150h5v1h-5z"/>
<path d="M206 150h4v1h-4zM205 151h7v1h-7zM204 152h9v1h-9zM204 153h9v1h-9zM203 154h10v1h-10zM203 155h10v1h-10zM203 156h10v1h-10zM204 157h9v1h-9zM205 158h7v1h-7zM206 159h5v1h-5z"/>
<path d="M206 160h5v1h-5zM205 161h6v1h-6zM205 162h7v1h-7zM205 163h7v1h-7zM205 164h6v1h-6zM206 165h5v1h-5z"/>
<path d="M206 167h3v1h-3zM204 168h6v1h-6zM204 169h6v1h-6zM203 170h8v1h-8zM204 171h7v1h-7zM204 172h6v1h-6zM205 173h5v1h-5z"/>
<path d="M206 176h4v1h-4zM205 177h6v1h-6zM205 178h6v1h-6zM205 179h6v1h-6zM206 180h4v1h-4zM207 181h2v1h-2z"/>
<path d="M207 183h3v1h-3zM206 184h5v1h-5zM205 185h7v1h-7zM205 186h7v1h-7zM205 187h7v1h-7zM206 188h5v1h-5zM207 189h3v1h-3z"/>
<path d="M206 190h5v1h-5zM205 191h7v1h-7zM205 192h7v1h-7zM204 193h9v1h-9zM204 194h9v1h-9zM204 195h9v1h-9zM205 196h7v1h-7zM205 197h7v1h-7zM207 198h3v1h-3z"/>
<path d="M206 200h4v1h-4zM205 201h6v1h-6zM205 202h6v1h-6zM206 203h4v1h-4zM207 204h2v1h-2z"/>
<path d="M205 207h5v1h-5zM204 208h7v1h-7zM204 209h7v1h-7zM204 210h7v1h-7zM204 211h7v1h-7zM205 212h5v1h-5z"/>
<path d="M209 215h1v1h-1zM208 216h4v1h-4zM207 217h5v1h-5zM207 218h5v1h-5zM208 219h3v1h-3z"/>
<path d="M208 224h3v1h-3zM207 225h5v1h-5zM208 226h3v1h-3zM208 227h3v1h-3z"/>
<path d="M207 225h4v1h-4zM205 226h9v1h-9zM204 227h11v1h-11zM203 228h13v1h-13zM202 229h15v1h-15zM202 230h15v1h-15zM201 231h16v1h-16zM201 232h17v1h-17zM201 233h17v1h-17zM201 234h17v1h-17zM201 235h16v1h-16zM202 236h15v1h-15zM202 237h15v1h-15zM203 238h13v1h-13zM204 239h11v1h-11zM205 240h9v1h-9zM207 241h5v1h-5z"/>
<path d="M207 236h3v1h-3zM205 237h6v1h-6zM204 238h8v1h-8zM203 239h10v1h-10zM203 240h10v1h-10zM203 241h10v1h-10zM203 242h10v1h-10zM204 243h9v1h-9zM204 244h8v1h-8zM205 245h6v1h-6zM208 246h1v1h-1z"/>
<path d="M206 244h5v1h-5zM205 245h7v1h-7zM204 246h9v1h-9zM204 247h9v1h-9zM203 248h11v1h-11zM203 249h11v1h-11zM203 250h11v1h-11zM204 251h9v1h-9zM204 252h9v1h-9zM205 253h7v1h-7zM208 254h1v1h-1z"/>
<path d="M206 253h4v1h-4zM205 254h6v1h-6zM205 255h7v1h-7zM204 256h8v1h-8zM204 257h8v1h-8zM204 258h8v1h-8zM205 259h7v1h-7zM206 260h5v1h-5z"/>
<path d="M206 260h5v1h-5zM205 261h7v1h-7zM204 262h9v1h-9zM204 263h9v1h-9zM203 264h11v1h-11zM203 265h11v1h-11zM204 266h9v1h-9zM204 267h9v1h-9zM205 268h7v1h-7zM206 269h5v1h-5z"/>
<path d="M206 270h5v1h-5zM205 271h6v1h-6zM205 272h7v1h-7zM205 273h7v1h-7zM206 274h5v1h-5zM207 275h3v1h-3z"/>
<path d="M206 277h4v1h-4zM205 278h6v1h-6zM204 279h8v1h-8zM204 280h8v1h-8zM204 281h8v1h-8zM205 282h6v1h-6zM206 283h4v1h-4z"/>
<path d="M204 286h4v1h-4zM203 287h6v1h-6zM203 288h6v1h-6zM204 289h4v1h-4zM204 290h4v1h-4z"/>
<path d="M207 291h3v1h-3zM205 292h7v1h-7zM204 293h9v1h-9zM204 294h9v1h-9zM203 295h11v1h-11zM203 296h11v1h-11zM203 297h11v1h-11zM204 298h9v1h-9zM204 299h9v1h-9zM205 300h7v1h-7zM208 301h1v1h-1z"/>
<path d="M207 301h3v1h-3zM206 302h5v1h-5zM205 303h7v1h-7zM205 304h7v1h-7zM205 305h6v1h-6zM206 306h5v1h-5z"/>
<path d="M206 308h2v1h-2zM204 309h6v1h-6zM204 310h6v1h-6zM203 311h8v1h-8zM203 312h8v1h-8zM204 313h6v1h-6zM204 314h6v1h-6zM206 315h2v1h-2z"/>
<path d="M205 317h5v1h-5zM205 318h5v1h-5zM204 319h7v1h-7zM204 320h7v1h-7zM205 321h5v1h-5zM206 322h3v1h-3z"/>
<path d="M206 325h3v1h-3zM205 326h5v1h-5zM205 327h5v1h-5zM205 328h5v1h-5zM206 329h3v1h-3z"/>
<path d="M204 333h4v1h-4zM203 334h6v1h-6zM203 335h6v1h-6zM203 336h6v1h-6zM204 337h4v1h-4z"/>
<path d="M205 334h5v1h-5zM203 335h10v1h-10zM202 336h12v1h-12zM201 337h14v1h-14zM200 338h16v1h-16zM200 339h16v1h-16zM199 340h18v1h-18zM199 341h18v1h-18zM199 342h18v1h-18zM199 343h18v1h-18zM199 344h18v1h-18zM199 345h18v1h-18zM199 346h18v1h-18zM200 347h16v1h-16zM200 348h16v1h-16zM201 349h14v1h-14zM202 350h12v1h-12zM204 351h8v1h-8zM207 352h2v1h-2z"/>
<path d="M206 345h3v1h-3zM204 346h7v1h-7zM203 347h9v1h-9zM202 348h11v1h-11zM202 349h11v1h-11zM202 350h11v1h-11zM202 351h11v1h-11zM202 352h11v1h-11zM202 353h11v1h-11zM203 354h9v1h-9zM203 355h9v1h-9zM205 356h5v1h-5z"/>
<path d="M206 354h5v1h-5zM205 355h7v1h-7zM204 356h9v1h-9zM203 357h10v1h-10zM203 358h11v1h-11zM203 359h11v1h-11zM203 360h10v1h-10zM204 361h9v1h-9zM204 362h8v1h-8zM206 363h5v1h-5z"/>
<path d="M206 362h5v1h-5zM204 363h8v1h-8zM204 364h9v1h-9zM203 365h10v1h-10zM203 366h11v1h-11zM203 367h11v1h-11zM203 368h10v1h-10zM204 369h9v1h-9zM205 370h7v1h-7zM206 371h5v1h-5z"/>
<path d="M207 369h3v1h-3zM205 370h7v1h-7zM204 371h9v1h-9zM204 372h9v1h-9zM203 373h11v1h-11zM203 374h11v1h-11zM203 375h11v1h-11zM203 376h11v1h-11zM204 377h9v1h-9zM205 378h7v1h-7zM206 379h5v1h-5z"/>
<path d="M208 376h3v1h-3zM206 377h7v1h-7zM205 378h9v1h-9zM204 379h11v1h-11zM203 380h13v1h-13zM203 381h13v1h-13zM203 382h13v1h-13zM203 383h13v1h-13zM203 384h13v1h-13zM204 385h11v1h-11zM204 386h11v1h-11zM205 387h9v1h-9zM207 388h5v1h-5z"/>
<path d="M207 385h3v1h-3zM205 386h7v1h-7zM204 387h9v1h-9zM204 388h9v1h-9zM203 389h11v1h-11zM203 390h11v1h-11zM203 391h10v1h-10zM204 392h9v1h-9zM204 393h9v1h-9zM205 394h7v1h-7zM207 395h3v1h-3z"/>
<path d="M206 395h4v1h-4zM205 396h6v1h-6zM204 397h7v1h-7zM204 398h7v1h-7zM204 399h7v1h-7zM205 400h5v1h-5zM206 401h3v1h-3z"/>
<path d="M206 401h4v1h-4zM205 402h6v1h-6zM204 403h8v1h-8zM203 404h10v1h-10zM203 405h10v1h-10zM203 406h10v1h-10zM203 407h10v1h-10zM204 408h8v1h-8zM205 409h7v1h-7zM206 410h4v1h-4z"/>
<path d="M205 411h5v1h-5zM205 412h5v1h-5zM204 413h7v1h-7zM204 414h7v1h-7zM205 415h5v1h-5zM205 416h5v1h-5z"/>
<path d="M205 418h4v1h-4zM204 419h6v1h-6zM204 420h6v1h-6zM203 421h8v1h-8zM203 422h8v1h-8zM204 423h6v1h-6zM204 424h6v1h-6z"/>
<path d="M205 427h4v1h-4zM205 428h4v1h-4zM204 429h6v1h-6zM204 430h6v1h-6zM205 431h4v1h-4z"/>
</g>
<path shape-rendering="crispEdges" d="M203 225 L204.6 224 L213.5 224 L214.4 226.5 L215.6 228.4 L216.9 231 L216.9 234.5 L203 234.5 Z"/>
<g shape-rendering="crispEdges"><rect x="204.6" y="224" width="12.3" height="1"/><rect x="216" y="223" width="1" height="2"/></g>
<rect x="205" y="434" width="1" height="4" fill="#333"/>
<rect x="208" y="434" width="1" height="4" fill="#333"/>
<rect x="210" y="434" width="1" height="4" fill="#333"/>
<rect x="213" y="434" width="1" height="4" fill="#333"/>
<rect x="215" y="434" width="1" height="4" fill="#333"/>
<text transform="translate(198.99,451.80) scale(1,1.1)" font-size="11.73" fill="#4D4D4D"><tspan x="0.00">-</tspan><tspan x="3.44" font-family="NanumGothic, Liberation Sans, sans-serif" stroke="#4D4D4D" stroke-width="0.3">1</tspan></text>
<text transform="translate(208.30,451.80) scale(1,1.1)" font-size="11.73" fill="#4D4D4D" text-anchor="middle">0</text>
<text transform="translate(207.24,451.80) scale(1,1.1)" font-size="11.73" fill="#4D4D4D"><tspan x="-0.47" font-family="NanumGothic, Liberation Sans, sans-serif" stroke="#4D4D4D" stroke-width="0.3">1</tspan></text>
<text transform="translate(213.00,451.80) scale(1,1.1)" font-size="11.73" fill="#4D4D4D" text-anchor="middle">2</text>
<text transform="translate(214.30,451.80) scale(1,1.1)" font-size="11.73" fill="#4D4D4D" text-anchor="middle">3</text>
<text x="210.05" y="469.7" text-anchor="middle" font-size="14.67" fill="#000">res.mean</text>
</g>
<rect x="273" y="7" width="167" height="427" fill="#EBEBEB"/>
<rect x="273" y="78" width="167" height="1" fill="#fff"/>
<rect x="273" y="174" width="167" height="1" fill="#fff"/>
<rect x="273" y="270" width="167" height="1" fill="#fff"/>
<rect x="273" y="367" width="167" height="1" fill="#fff"/>
<rect x="293" y="7" width="1" height="427" fill="#fff"/>
<rect x="336" y="7" width="1" height="427" fill="#fff"/>
<rect x="379" y="7" width="1" height="427" fill="#fff"/>
<rect x="422" y="7" width="1" height="427" fill="#fff"/>
<rect x="273" y="30" width="167" height="1" fill="#fff"/>
<rect x="273" y="126" width="167" height="1" fill="#fff"/>
<rect x="273" y="222" width="167" height="1" fill="#fff"/>
<rect x="273" y="319" width="167" height="1" fill="#fff"/>
<rect x="273" y="415" width="167" height="1" fill="#fff"/>
<rect x="315" y="7" width="1" height="427" fill="#fff"/>
<rect x="357" y="7" width="1" height="427" fill="#fff"/>
<rect x="400" y="7" width="1" height="427" fill="#fff"/>
<polyline points="281,413.4 285,413.4 286.1,412.5 288.6,411.4 293.2,411.4 294.3,412.3 298,412.3 300.2,411 301.8,408.8 303.2,406.1 304.5,403.4 305.9,400.1 307.3,396.9 308.3,393.6 309.4,390 310.6,385 311.8,380 313.2,373.75 314.5,367.5 315.8,360 317,352.5 318.5,345 319.75,338.75 320.75,330 321.75,322.5 322.6,316.25 323.5,307.5 324.5,300 325.25,292.5 326.25,282.5 327.25,272.5 328.1,263.1 329,255 330,246.9 330.6,240 331.25,235 332.25,226.9 333.25,217.5 334.1,206.9 335,198.1 336,186.9 336.6,180 337.25,177.5 338.25,170 339.25,160 340.1,151.25 341,142.5 342,128.1 342.6,120 343.5,112.5 344.5,106.25 345.4,92.5 346.25,83.75 347,72.5 347.9,65 348.5,60 349.4,57 350.3,53.7 351.3,50.5 352.4,47.7 353.5,44.8 354.5,41.5 355.25,37.5 356.5,34.5 357.25,31 358.25,28 359.5,26.25 360.75,26.75 361.5,29 362.5,31.5 363.5,35 364.2,40 365,45 365.6,52.5 366.9,58.75 367.75,65 368.5,71.25 369.4,77.5 370.25,83.75 371,90 371.9,100 372.9,110 373.75,121.25 374.5,135 375.4,142.5 376.25,152.5 377.25,159 378,167.5 378.9,175 379.75,186.25 380.75,196.25 381.75,207.5 382.5,220 383.25,225 384,235 384.9,250 385.75,261.25 386.75,270 387.45,280 388.4,286.25 389.25,293.75 390.25,302.5 391.25,310 392.5,316.25 393.75,323.75 395,331.25 396.3,337 397.25,343.5 398.25,351 399.25,357.25 400.5,363.5 402.3,371 403.9,378.5 405.4,386 406.8,391 407.5,393.5 408.7,396.4 409.8,399.6 411.3,401.7 413.6,403.7 416,405.5 418,407.5 420.3,409.8 422.7,411.3 425.3,412.5 428.5,413.3 431.1,413.6 432.6,414.5" fill="none" stroke="#000" stroke-width="1" shape-rendering="crispEdges"/>
<rect x="270" y="30" width="3" height="1" fill="#333"/>
<text transform="translate(266.60,35.80) scale(1,1.1)" font-size="11.73" fill="#4D4D4D" text-anchor="end">0.4</text>
<rect x="270" y="126" width="3" height="1" fill="#333"/>
<text transform="translate(266.60,131.80) scale(1,1.1)" font-size="11.73" fill="#4D4D4D" text-anchor="end">0.3</text>
<rect x="270" y="222" width="3" height="1" fill="#333"/>
<text transform="translate(266.60,227.80) scale(1,1.1)" font-size="11.73" fill="#4D4D4D" text-anchor="end">0.2</text>
<rect x="270" y="319" width="3" height="1" fill="#333"/>
<text transform="translate(250.29,324.80) scale(1,1.1)" font-size="11.73" fill="#4D4D4D"><tspan x="0.00">0.</tspan><tspan x="9.31" font-family="NanumGothic, Liberation Sans, sans-serif" stroke="#4D4D4D" stroke-width="0.3">1</tspan></text>
<rect x="270" y="415" width="3" height="1" fill="#333"/>
<text transform="translate(266.60,420.80) scale(1,1.1)" font-size="11.73" fill="#4D4D4D" text-anchor="end">0.0</text>
<rect x="315" y="434" width="1" height="4" fill="#333"/>
<text transform="translate(314.50,451.80) scale(1,1.1)" font-size="11.73" fill="#4D4D4D" text-anchor="middle">-2</text>
<rect x="357" y="434" width="1" height="4" fill="#333"/>
<text transform="translate(356.50,451.80) scale(1,1.1)" font-size="11.73" fill="#4D4D4D" text-anchor="middle">0</text>
<rect x="400" y="434" width="1" height="4" fill="#333"/>
<text transform="translate(399.50,451.80) scale(1,1.1)" font-size="11.73" fill="#4D4D4D" text-anchor="middle">2</text>
<text x="356.5" y="469.7" text-anchor="middle" font-size="14.67" fill="#000">residual</text>
<text transform="translate(243.6,220.6) rotate(-90)" text-anchor="middle" font-size="14.67" fill="#000">density</text>
<text transform="translate(651.20,21.50) scale(0.92,1.04)" font-size="17.2" fill="#000">mean</text>
<text transform="translate(467.6,233.4) rotate(-90)" text-anchor="middle" font-size="14.67" fill="#000">group</text>
<text transform="translate(474.03,43.00) scale(1,1.1)" font-size="11.73" fill="#4D4D4D"><tspan x="0.00">x</tspan><tspan x="5.40" font-family="NanumGothic, Liberation Sans, sans-serif" stroke="#4D4D4D" stroke-width="0.3">1</tspan><tspan x="12.39">=</tspan><tspan x="18.77" font-family="NanumGothic, Liberation Sans, sans-serif" stroke="#4D4D4D" stroke-width="0.3">1</tspan><tspan x="25.76">,x2=</tspan><tspan x="47.79" font-family="NanumGothic, Liberation Sans, sans-serif" stroke="#4D4D4D" stroke-width="0.3">1</tspan><tspan x="54.78">,x3=</tspan><tspan x="76.81" font-family="NanumGothic, Liberation Sans, sans-serif" stroke="#4D4D4D" stroke-width="0.3">1</tspan><tspan x="83.81">,x4=</tspan><tspan x="105.83" font-family="NanumGothic, Liberation Sans, sans-serif" stroke="#4D4D4D" stroke-width="0.3">1</tspan><tspan x="112.83">,x5=</tspan><tspan x="134.86" font-family="NanumGothic, Liberation Sans, sans-serif" stroke="#4D4D4D" stroke-width="0.3">1</tspan><tspan x="141.85">,x6=</tspan><tspan x="163.88" font-family="NanumGothic, Liberation Sans, sans-serif" stroke="#4D4D4D" stroke-width="0.3">1</tspan></text>
<text transform="translate(474.03,50.00) scale(1,1.1)" font-size="11.73" fill="#4D4D4D"><tspan x="0.00">x</tspan><tspan x="5.40" font-family="NanumGothic, Liberation Sans, sans-serif" stroke="#4D4D4D" stroke-width="0.3">1</tspan><tspan x="12.39">=</tspan><tspan x="18.77" font-family="NanumGothic, Liberation Sans, sans-serif" stroke="#4D4D4D" stroke-width="0.3">1</tspan><tspan x="25.76">,x2=</tspan><tspan x="47.79" font-family="NanumGothic, Liberation Sans, sans-serif" stroke="#4D4D4D" stroke-width="0.3">1</tspan><tspan x="54.78">,x3=</tspan><tspan x="76.81" font-family="NanumGothic, Liberation Sans, sans-serif" stroke="#4D4D4D" stroke-width="0.3">1</tspan><tspan x="83.81">,x4=</tspan><tspan x="105.83" font-family="NanumGothic, Liberation Sans, sans-serif" stroke="#4D4D4D" stroke-width="0.3">1</tspan><tspan x="112.83">,x5=</tspan><tspan x="134.86" font-family="NanumGothic, Liberation Sans, sans-serif" stroke="#4D4D4D" stroke-width="0.3">1</tspan><tspan x="141.85">,x6=0</tspan></text>
<text transform="translate(474.03,58.00) scale(1,1.1)" font-size="11.73" fill="#4D4D4D"><tspan x="0.00">x</tspan><tspan x="5.40" font-family="NanumGothic, Liberation Sans, sans-serif" stroke="#4D4D4D" stroke-width="0.3">1</tspan><tspan x="12.39">=</tspan><tspan x="18.77" font-family="NanumGothic, Liberation Sans, sans-serif" stroke="#4D4D4D" stroke-width="0.3">1</tspan><tspan x="25.76">,x2=</tspan><tspan x="47.79" font-family="NanumGothic, Liberation Sans, sans-serif" stroke="#4D4D4D" stroke-width="0.3">1</tspan><tspan x="54.78">,x3=</tspan><tspan x="76.81" font-family="NanumGothic, Liberation Sans, sans-serif" stroke="#4D4D4D" stroke-width="0.3">1</tspan><tspan x="83.81">,x4=</tspan><tspan x="105.83" font-family="NanumGothic, Liberation Sans, sans-serif" stroke="#4D4D4D" stroke-width="0.3">1</tspan><tspan x="112.83">,x5=0,x6=</tspan><tspan x="163.88" font-family="NanumGothic, Liberation Sans, sans-serif" stroke="#4D4D4D" stroke-width="0.3">1</tspan></text>
<text transform="translate(474.03,66.00) scale(1,1.1)" font-size="11.73" fill="#4D4D4D"><tspan x="0.00">x</tspan><tspan x="5.40" font-family="NanumGothic, Liberation Sans, sans-serif" stroke="#4D4D4D" stroke-width="0.3">1</tspan><tspan x="12.39">=</tspan><tspan x="18.77" font-family="NanumGothic, Liberation Sans, sans-serif" stroke="#4D4D4D" stroke-width="0.3">1</tspan><tspan x="25.76">,x2=</tspan><tspan x="47.79" font-family="NanumGothic, Liberation Sans, sans-serif" stroke="#4D4D4D" stroke-width="0.3">1</tspan><tspan x="54.78">,x3=</tspan><tspan x="76.81" font-family="NanumGothic, Liberation Sans, sans-serif" stroke="#4D4D4D" stroke-width="0.3">1</tspan><tspan x="83.81">,x4=</tspan><tspan x="105.83" font-family="NanumGothic, Liberation Sans, sans-serif" stroke="#4D4D4D" stroke-width="0.3">1</tspan><tspan x="112.83">,x5=0,x6=0</tspan></text>
<text transform="translate(474.03,74.00) scale(1,1.1)" font-size="11.73" fill="#4D4D4D"><tspan x="0.00">x</tspan><tspan x="5.40" font-family="NanumGothic, Liberation Sans, sans-serif" stroke="#4D4D4D" stroke-width="0.3">1</tspan><tspan x="12.39">=</tspan><tspan x="18.77" font-family="NanumGothic, Liberation Sans, sans-serif" stroke="#4D4D4D" stroke-width="0.3">1</tspan><tspan x="25.76">,x2=</tspan><tspan x="47.79" font-family="NanumGothic, Liberation Sans, sans-serif" stroke="#4D4D4D" stroke-width="0.3">1</tspan><tspan x="54.78">,x3=</tspan><tspan x="76.81" font-family="NanumGothic, Liberation Sans, sans-serif" stroke="#4D4D4D" stroke-width="0.3">1</tspan><tspan x="83.81">,x4=0,x5=</tspan><tspan x="134.86" font-family="NanumGothic, Liberation Sans, sans-serif" stroke="#4D4D4D" stroke-width="0.3">1</tspan><tspan x="141.85">,x6=</tspan><tspan x="163.88" font-family="NanumGothic, Liberation Sans, sans-serif" stroke="#4D4D4D" stroke-width="0.3">1</tspan></text>
<text transform="translate(474.03,82.00) scale(1,1.1)" font-size="11.73" fill="#4D4D4D"><tspan x="0.00">x</tspan><tspan x="5.40" font-family="NanumGothic, Liberation Sans, sans-serif" stroke="#4D4D4D" stroke-width="0.3">1</tspan><tspan x="12.39">=</tspan><tspan x="18.77" font-family="NanumGothic, Liberation Sans, sans-serif" stroke="#4D4D4D" stroke-width="0.3">1</tspan><tspan x="25.76">,x2=</tspan><tspan x="47.79" font-family="NanumGothic, Liberation Sans, sans-serif" stroke="#4D4D4D" stroke-width="0.3">1</tspan><tspan x="54.78">,x3=</tspan><tspan x="76.81" font-family="NanumGothic, Liberation Sans, sans-serif" stroke="#4D4D4D" stroke-width="0.3">1</tspan><tspan x="83.81">,x4=0,x5=</tspan><tspan x="134.86" font-family="NanumGothic, Liberation Sans, sans-serif" stroke="#4D4D4D" stroke-width="0.3">1</tspan><tspan x="141.85">,x6=0</tspan></text>
<text transform="translate(474.03,90.00) scale(1,1.1)" font-size="11.73" fill="#4D4D4D"><tspan x="0.00">x</tspan><tspan x="5.40" font-family="NanumGothic, Liberation Sans, sans-serif" stroke="#4D4D4D" stroke-width="0.3">1</tspan><tspan x="12.39">=</tspan><tspan x="18.77" font-family="NanumGothic, Liberation Sans, sans-serif" stroke="#4D4D4D" stroke-width="0.3">1</tspan><tspan x="25.76">,x2=</tspan><tspan x="47.79" font-family="NanumGothic, Liberation Sans, sans-serif" stroke="#4D4D4D" stroke-width="0.3">1</tspan><tspan x="54.78">,x3=</tspan><tspan x="76.81" font-family="NanumGothic, Liberation Sans, sans-serif" stroke="#4D4D4D" stroke-width="0.3">1</tspan><tspan x="83.81">,x4=0,x5=0,x6=</tspan><tspan x="163.88" font-family="NanumGothic, Liberation Sans, sans-serif" stroke="#4D4D4D" stroke-width="0.3">1</tspan></text>
<text transform="translate(474.03,98.00) scale(1,1.1)" font-size="11.73" fill="#4D4D4D"><tspan x="0.00">x</tspan><tspan x="5.40" font-family="NanumGothic, Liberation Sans, sans-serif" stroke="#4D4D4D" stroke-width="0.3">1</tspan><tspan x="12.39">=</tspan><tspan x="18.77" font-family="NanumGothic, Liberation Sans, sans-serif" stroke="#4D4D4D" stroke-width="0.3">1</tspan><tspan x="25.76">,x2=</tspan><tspan x="47.79" font-family="NanumGothic, Liberation Sans, sans-serif" stroke="#4D4D4D" stroke-width="0.3">1</tspan><tspan x="54.78">,x3=0,x4=</tspan><tspan x="105.83" font-family="NanumGothic, Liberation Sans, sans-serif" stroke="#4D4D4D" stroke-width="0.3">1</tspan><tspan x="112.83">,x5=</tspan><tspan x="134.86" font-family="NanumGothic, Liberation Sans, sans-serif" stroke="#4D4D4D" stroke-width="0.3">1</tspan><tspan x="141.85">,x6=</tspan><tspan x="163.88" font-family="NanumGothic, Liberation Sans, sans-serif" stroke="#4D4D4D" stroke-width="0.3">1</tspan></text>
<text transform="translate(474.03,105.00) scale(1,1.1)" font-size="11.73" fill="#4D4D4D"><tspan x="0.00">x</tspan><tspan x="5.40" font-family="NanumGothic, Liberation Sans, sans-serif" stroke="#4D4D4D" stroke-width="0.3">1</tspan><tspan x="12.39">=</tspan><tspan x="18.77" font-family="NanumGothic, Liberation Sans, sans-serif" stroke="#4D4D4D" stroke-width="0.3">1</tspan><tspan x="25.76">,x2=</tspan><tspan x="47.79" font-family="NanumGothic, Liberation Sans, sans-serif" stroke="#4D4D4D" stroke-width="0.3">1</tspan><tspan x="54.78">,x3=0,x4=</tspan><tspan x="105.83" font-family="NanumGothic, Liberation Sans, sans-serif" stroke="#4D4D4D" stroke-width="0.3">1</tspan><tspan x="112.83">,x5=</tspan><tspan x="134.86" font-family="NanumGothic, Liberation Sans, sans-serif" stroke="#4D4D4D" stroke-width="0.3">1</tspan><tspan x="141.85">,x6=0</tspan></text>
<text transform="translate(474.03,113.00) scale(1,1.1)" font-size="11.73" fill="#4D4D4D"><tspan x="0.00">x</tspan><tspan x="5.40" font-family="NanumGothic, Liberation Sans, sans-serif" stroke="#4D4D4D" stroke-width="0.3">1</tspan><tspan x="12.39">=</tspan><tspan x="18.77" font-family="NanumGothic, Liberation Sans, sans-serif" stroke="#4D4D4D" stroke-width="0.3">1</tspan><tspan x="25.76">,x2=</tspan><tspan x="47.79" font-family="NanumGothic, Liberation Sans, sans-serif" stroke="#4D4D4D" stroke-width="0.3">1</tspan><tspan x="54.78">,x3=0,x4=</tspan><tspan x="105.83" font-family="NanumGothic, Liberation Sans, sans-serif" stroke="#4D4D4D" stroke-width="0.3">1</tspan><tspan x="112.83">,x5=0,x6=</tspan><tspan x="163.88" font-family="NanumGothic, Liberation Sans, sans-serif" stroke="#4D4D4D" stroke-width="0.3">1</tspan></text>
<text transform="translate(474.03,121.00) scale(1,1.1)" font-size="11.73" fill="#4D4D4D"><tspan x="0.00">x</tspan><tspan x="5.40" font-family="NanumGothic, Liberation Sans, sans-serif" stroke="#4D4D4D" stroke-width="0.3">1</tspan><tspan x="12.39">=</tspan><tspan x="18.77" font-family="NanumGothic, Liberation Sans, sans-serif" stroke="#4D4D4D" stroke-width="0.3">1</tspan><tspan x="25.76">,x2=</tspan><tspan x="47.79" font-family="NanumGothic, Liberation Sans, sans-serif" stroke="#4D4D4D" stroke-width="0.3">1</tspan><tspan x="54.78">,x3=0,x4=</tspan><tspan x="105.83" font-family="NanumGothic, Liberation Sans, sans-serif" stroke="#4D4D4D" stroke-width="0.3">1</tspan><tspan x="112.83">,x5=0,x6=0</tspan></text>
<text transform="translate(474.03,129.00) scale(1,1.1)" font-size="11.73" fill="#4D4D4D"><tspan x="0.00">x</tspan><tspan x="5.40" font-family="NanumGothic, Liberation Sans, sans-serif" stroke="#4D4D4D" stroke-width="0.3">1</tspan><tspan x="12.39">=</tspan><tspan x="18.77" font-family="NanumGothic, Liberation Sans, sans-serif" stroke="#4D4D4D" stroke-width="0.3">1</tspan><tspan x="25.76">,x2=</tspan><tspan x="47.79" font-family="NanumGothic, Liberation Sans, sans-serif" stroke="#4D4D4D" stroke-width="0.3">1</tspan><tspan x="54.78">,x3=0,x4=0,x5=0,x6=</tspan><tspan x="163.88" font-family="NanumGothic, Liberation Sans, sans-serif" stroke="#4D4D4D" stroke-width="0.3">1</tspan></text>
<text transform="translate(474.03,137.00) scale(1,1.1)" font-size="11.73" fill="#4D4D4D"><tspan x="0.00">x</tspan><tspan x="5.40" font-family="NanumGothic, Liberation Sans, sans-serif" stroke="#4D4D4D" stroke-width="0.3">1</tspan><tspan x="12.39">=</tspan><tspan x="18.77" font-family="NanumGothic, Liberation Sans, sans-serif" stroke="#4D4D4D" stroke-width="0.3">1</tspan><tspan x="25.76">,x2=0,x3=</tspan><tspan x="76.81" font-family="NanumGothic, Liberation Sans, sans-serif" stroke="#4D4D4D" stroke-width="0.3">1</tspan><tspan x="83.81">,x4=</tspan><tspan x="105.83" font-family="NanumGothic, Liberation Sans, sans-serif" stroke="#4D4D4D" stroke-width="0.3">1</tspan><tspan x="112.83">,x5=</tspan><tspan x="134.86" font-family="NanumGothic, Liberation Sans, sans-serif" stroke="#4D4D4D" stroke-width="0.3">1</tspan><tspan x="141.85">,x6=0</tspan></text>
<text transform="translate(474.03,145.00) scale(1,1.1)" font-size="11.73" fill="#4D4D4D"><tspan x="0.00">x</tspan><tspan x="5.40" font-family="NanumGothic, Liberation Sans, sans-serif" stroke="#4D4D4D" stroke-width="0.3">1</tspan><tspan x="12.39">=</tspan><tspan x="18.77" font-family="NanumGothic, Liberation Sans, sans-serif" stroke="#4D4D4D" stroke-width="0.3">1</tspan><tspan x="25.76">,x2=0,x3=</tspan><tspan x="76.81" font-family="NanumGothic, Liberation Sans, sans-serif" stroke="#4D4D4D" stroke-width="0.3">1</tspan><tspan x="83.81">,x4=</tspan><tspan x="105.83" font-family="NanumGothic, Liberation Sans, sans-serif" stroke="#4D4D4D" stroke-width="0.3">1</tspan><tspan x="112.83">,x5=0,x6=</tspan><tspan x="163.88" font-family="NanumGothic, Liberation Sans, sans-serif" stroke="#4D4D4D" stroke-width="0.3">1</tspan></text>
<text transform="translate(474.03,153.00) scale(1,1.1)" font-size="11.73" fill="#4D4D4D"><tspan x="0.00">x</tspan><tspan x="5.40" font-family="NanumGothic, Liberation Sans, sans-serif" stroke="#4D4D4D" stroke-width="0.3">1</tspan><tspan x="12.39">=</tspan><tspan x="18.77" font-family="NanumGothic, Liberation Sans, sans-serif" stroke="#4D4D4D" stroke-width="0.3">1</tspan><tspan x="25.76">,x2=0,x3=</tspan><tspan x="76.81" font-family="NanumGothic, Liberation Sans, sans-serif" stroke="#4D4D4D" stroke-width="0.3">1</tspan><tspan x="83.81">,x4=</tspan><tspan x="105.83" font-family="NanumGothic, Liberation Sans, sans-serif" stroke="#4D4D4D" stroke-width="0.3">1</tspan><tspan x="112.83">,x5=0,x6=0</tspan></text>
<text transform="translate(474.03,160.00) scale(1,1.1)" font-size="11.73" fill="#4D4D4D"><tspan x="0.00">x</tspan><tspan x="5.40" font-family="NanumGothic, Liberation Sans, sans-serif" stroke="#4D4D4D" stroke-width="0.3">1</tspan><tspan x="12.39">=</tspan><tspan x="18.77" font-family="NanumGothic, Liberation Sans, sans-serif" stroke="#4D4D4D" stroke-width="0.3">1</tspan><tspan x="25.76">,x2=0,x3=</tspan><tspan x="76.81" font-family="NanumGothic, Liberation Sans, sans-serif" stroke="#4D4D4D" stroke-width="0.3">1</tspan><tspan x="83.81">,x4=0,x5=</tspan><tspan x="134.86" font-family="NanumGothic, Liberation Sans, sans-serif" stroke="#4D4D4D" stroke-width="0.3">1</tspan><tspan x="141.85">,x6=</tspan><tspan x="163.88" font-family="NanumGothic, Liberation Sans, sans-serif" stroke="#4D4D4D" stroke-width="0.3">1</tspan></text>
<text transform="translate(474.03,168.00) scale(1,1.1)" font-size="11.73" fill="#4D4D4D"><tspan x="0.00">x</tspan><tspan x="5.40" font-family="NanumGothic, Liberation Sans, sans-serif" stroke="#4D4D4D" stroke-width="0.3">1</tspan><tspan x="12.39">=</tspan><tspan x="18.77" font-family="NanumGothic, Liberation Sans, sans-serif" stroke="#4D4D4D" stroke-width="0.3">1</tspan><tspan x="25.76">,x2=0,x3=</tspan><tspan x="76.81" font-family="NanumGothic, Liberation Sans, sans-serif" stroke="#4D4D4D" stroke-width="0.3">1</tspan><tspan x="83.81">,x4=0,x5=</tspan><tspan x="134.86" font-family="NanumGothic, Liberation Sans, sans-serif" stroke="#4D4D4D" stroke-width="0.3">1</tspan><tspan x="141.85">,x6=0</tspan></text>
<text transform="translate(474.03,176.00) scale(1,1.1)" font-size="11.73" fill="#4D4D4D"><tspan x="0.00">x</tspan><tspan x="5.40" font-family="NanumGothic, Liberation Sans, sans-serif" stroke="#4D4D4D" stroke-width="0.3">1</tspan><tspan x="12.39">=</tspan><tspan x="18.77" font-family="NanumGothic, Liberation Sans, sans-serif" stroke="#4D4D4D" stroke-width="0.3">1</tspan><tspan x="25.76">,x2=0,x3=</tspan><tspan x="76.81" font-family="NanumGothic, Liberation Sans, sans-serif" stroke="#4D4D4D" stroke-width="0.3">1</tspan><tspan x="83.81">,x4=0,x5=0,x6=</tspan><tspan x="163.88" font-family="NanumGothic, Liberation Sans, sans-serif" stroke="#4D4D4D" stroke-width="0.3">1</tspan></text>
<text transform="translate(474.03,184.00) scale(1,1.1)" font-size="11.73" fill="#4D4D4D"><tspan x="0.00">x</tspan><tspan x="5.40" font-family="NanumGothic, Liberation Sans, sans-serif" stroke="#4D4D4D" stroke-width="0.3">1</tspan><tspan x="12.39">=</tspan><tspan x="18.77" font-family="NanumGothic, Liberation Sans, sans-serif" stroke="#4D4D4D" stroke-width="0.3">1</tspan><tspan x="25.76">,x2=0,x3=</tspan><tspan x="76.81" font-family="NanumGothic, Liberation Sans, sans-serif" stroke="#4D4D4D" stroke-width="0.3">1</tspan><tspan x="83.81">,x4=0,x5=0,x6=0</tspan></text>
<text transform="translate(474.03,192.00) scale(1,1.1)" font-size="11.73" fill="#4D4D4D"><tspan x="0.00">x</tspan><tspan x="5.40" font-family="NanumGothic, Liberation Sans, sans-serif" stroke="#4D4D4D" stroke-width="0.3">1</tspan><tspan x="12.39">=</tspan><tspan x="18.77" font-family="NanumGothic, Liberation Sans, sans-serif" stroke="#4D4D4D" stroke-width="0.3">1</tspan><tspan x="25.76">,x2=0,x3=0,x4=</tspan><tspan x="105.83" font-family="NanumGothic, Liberation Sans, sans-serif" stroke="#4D4D4D" stroke-width="0.3">1</tspan><tspan x="112.83">,x5=</tspan><tspan x="134.86" font-family="NanumGothic, Liberation Sans, sans-serif" stroke="#4D4D4D" stroke-width="0.3">1</tspan><tspan x="141.85">,x6=0</tspan></text>
<text transform="translate(474.03,200.00) scale(1,1.1)" font-size="11.73" fill="#4D4D4D"><tspan x="0.00">x</tspan><tspan x="5.40" font-family="NanumGothic, Liberation Sans, sans-serif" stroke="#4D4D4D" stroke-width="0.3">1</tspan><tspan x="12.39">=</tspan><tspan x="18.77" font-family="NanumGothic, Liberation Sans, sans-serif" stroke="#4D4D4D" stroke-width="0.3">1</tspan><tspan x="25.76">,x2=0,x3=0,x4=</tspan><tspan x="105.83" font-family="NanumGothic, Liberation Sans, sans-serif" stroke="#4D4D4D" stroke-width="0.3">1</tspan><tspan x="112.83">,x5=0,x6=</tspan><tspan x="163.88" font-family="NanumGothic, Liberation Sans, sans-serif" stroke="#4D4D4D" stroke-width="0.3">1</tspan></text>
<text transform="translate(474.03,208.00) scale(1,1.1)" font-size="11.73" fill="#4D4D4D"><tspan x="0.00">x</tspan><tspan x="5.40" font-family="NanumGothic, Liberation Sans, sans-serif" stroke="#4D4D4D" stroke-width="0.3">1</tspan><tspan x="12.39">=</tspan><tspan x="18.77" font-family="NanumGothic, Liberation Sans, sans-serif" stroke="#4D4D4D" stroke-width="0.3">1</tspan><tspan x="25.76">,x2=0,x3=0,x4=</tspan><tspan x="105.83" font-family="NanumGothic, Liberation Sans, sans-serif" stroke="#4D4D4D" stroke-width="0.3">1</tspan><tspan x="112.83">,x5=0,x6=0</tspan></text>
<text transform="translate(474.03,215.00) scale(1,1.1)" font-size="11.73" fill="#4D4D4D"><tspan x="0.00">x</tspan><tspan x="5.40" font-family="NanumGothic, Liberation Sans, sans-serif" stroke="#4D4D4D" stroke-width="0.3">1</tspan><tspan x="12.39">=</tspan><tspan x="18.77" font-family="NanumGothic, Liberation Sans, sans-serif" stroke="#4D4D4D" stroke-width="0.3">1</tspan><tspan x="25.76">,x2=0,x3=0,x4=0,x5=</tspan><tspan x="134.86" font-family="NanumGothic, Liberation Sans, sans-serif" stroke="#4D4D4D" stroke-width="0.3">1</tspan><tspan x="141.85">,x6=</tspan><tspan x="163.88" font-family="NanumGothic, Liberation Sans, sans-serif" stroke="#4D4D4D" stroke-width="0.3">1</tspan></text>
<text transform="translate(474.03,223.00) scale(1,1.1)" font-size="11.73" fill="#4D4D4D"><tspan x="0.00">x</tspan><tspan x="5.40" font-family="NanumGothic, Liberation Sans, sans-serif" stroke="#4D4D4D" stroke-width="0.3">1</tspan><tspan x="12.39">=</tspan><tspan x="18.77" font-family="NanumGothic, Liberation Sans, sans-serif" stroke="#4D4D4D" stroke-width="0.3">1</tspan><tspan x="25.76">,x2=0,x3=0,x4=0,x5=</tspan><tspan x="134.86" font-family="NanumGothic, Liberation Sans, sans-serif" stroke="#4D4D4D" stroke-width="0.3">1</tspan><tspan x="141.85">,x6=0</tspan></text>
<text transform="translate(474.03,231.00) scale(1,1.1)" font-size="11.73" fill="#4D4D4D"><tspan x="0.00">x</tspan><tspan x="5.40" font-family="NanumGothic, Liberation Sans, sans-serif" stroke="#4D4D4D" stroke-width="0.3">1</tspan><tspan x="12.39">=</tspan><tspan x="18.77" font-family="NanumGothic, Liberation Sans, sans-serif" stroke="#4D4D4D" stroke-width="0.3">1</tspan><tspan x="25.76">,x2=0,x3=0,x4=0,x5=0,x6=0</tspan></text>
<text transform="translate(474.03,239.00) scale(1,1.1)" font-size="11.73" fill="#4D4D4D"><tspan x="0.00">x</tspan><tspan x="5.40" font-family="NanumGothic, Liberation Sans, sans-serif" stroke="#4D4D4D" stroke-width="0.3">1</tspan><tspan x="12.39">=0,x2=</tspan><tspan x="47.79" font-family="NanumGothic, Liberation Sans, sans-serif" stroke="#4D4D4D" stroke-width="0.3">1</tspan><tspan x="54.78">,x3=</tspan><tspan x="76.81" font-family="NanumGothic, Liberation Sans, sans-serif" stroke="#4D4D4D" stroke-width="0.3">1</tspan><tspan x="83.81">,x4=</tspan><tspan x="105.83" font-family="NanumGothic, Liberation Sans, sans-serif" stroke="#4D4D4D" stroke-width="0.3">1</tspan><tspan x="112.83">,x5=</tspan><tspan x="134.86" font-family="NanumGothic, Liberation Sans, sans-serif" stroke="#4D4D4D" stroke-width="0.3">1</tspan><tspan x="141.85">,x6=</tspan><tspan x="163.88" font-family="NanumGothic, Liberation Sans, sans-serif" stroke="#4D4D4D" stroke-width="0.3">1</tspan></text>
<text transform="translate(474.03,247.00) scale(1,1.1)" font-size="11.73" fill="#4D4D4D"><tspan x="0.00">x</tspan><tspan x="5.40" font-family="NanumGothic, Liberation Sans, sans-serif" stroke="#4D4D4D" stroke-width="0.3">1</tspan><tspan x="12.39">=0,x2=</tspan><tspan x="47.79" font-family="NanumGothic, Liberation Sans, sans-serif" stroke="#4D4D4D" stroke-width="0.3">1</tspan><tspan x="54.78">,x3=</tspan><tspan x="76.81" font-family="NanumGothic, Liberation Sans, sans-serif" stroke="#4D4D4D" stroke-width="0.3">1</tspan><tspan x="83.81">,x4=</tspan><tspan x="105.83" font-family="NanumGothic, Liberation Sans, sans-serif" stroke="#4D4D4D" stroke-width="0.3">1</tspan><tspan x="112.83">,x5=</tspan><tspan x="134.86" font-family="NanumGothic, Liberation Sans, sans-serif" stroke="#4D4D4D" stroke-width="0.3">1</tspan><tspan x="141.85">,x6=0</tspan></text>
<text transform="translate(474.03,255.00) scale(1,1.1)" font-size="11.73" fill="#4D4D4D"><tspan x="0.00">x</tspan><tspan x="5.40" font-family="NanumGothic, Liberation Sans, sans-serif" stroke="#4D4D4D" stroke-width="0.3">1</tspan><tspan x="12.39">=0,x2=</tspan><tspan x="47.79" font-family="NanumGothic, Liberation Sans, sans-serif" stroke="#4D4D4D" stroke-width="0.3">1</tspan><tspan x="54.78">,x3=</tspan><tspan x="76.81" font-family="NanumGothic, Liberation Sans, sans-serif" stroke="#4D4D4D" stroke-width="0.3">1</tspan><tspan x="83.81">,x4=</tspan><tspan x="105.83" font-family="NanumGothic, Liberation Sans, sans-serif" stroke="#4D4D4D" stroke-width="0.3">1</tspan><tspan x="112.83">,x5=0,x6=</tspan><tspan x="163.88" font-family="NanumGothic, Liberation Sans, sans-serif" stroke="#4D4D4D" stroke-width="0.3">1</tspan></text>
<text transform="translate(474.03,263.00) scale(1,1.1)" font-size="11.73" fill="#4D4D4D"><tspan x="0.00">x</tspan><tspan x="5.40" font-family="NanumGothic, Liberation Sans, sans-serif" stroke="#4D4D4D" stroke-width="0.3">1</tspan><tspan x="12.39">=0,x2=</tspan><tspan x="47.79" font-family="NanumGothic, Liberation Sans, sans-serif" stroke="#4D4D4D" stroke-width="0.3">1</tspan><tspan x="54.78">,x3=</tspan><tspan x="76.81" font-family="NanumGothic, Liberation Sans, sans-serif" stroke="#4D4D4D" stroke-width="0.3">1</tspan><tspan x="83.81">,x4=</tspan><tspan x="105.83" font-family="NanumGothic, Liberation Sans, sans-serif" stroke="#4D4D4D" stroke-width="0.3">1</tspan><tspan x="112.83">,x5=0,x6=0</tspan></text>
<text transform="translate(474.03,270.00) scale(1,1.1)" font-size="11.73" fill="#4D4D4D"><tspan x="0.00">x</tspan><tspan x="5.40" font-family="NanumGothic, Liberation Sans, sans-serif" stroke="#4D4D4D" stroke-width="0.3">1</tspan><tspan x="12.39">=0,x2=</tspan><tspan x="47.79" font-family="NanumGothic, Liberation Sans, sans-serif" stroke="#4D4D4D" stroke-width="0.3">1</tspan><tspan x="54.78">,x3=</tspan><tspan x="76.81" font-family="NanumGothic, Liberation Sans, sans-serif" stroke="#4D4D4D" stroke-width="0.3">1</tspan><tspan x="83.81">,x4=0,x5=</tspan><tspan x="134.86" font-family="NanumGothic, Liberation Sans, sans-serif" stroke="#4D4D4D" stroke-width="0.3">1</tspan><tspan x="141.85">,x6=</tspan><tspan x="163.88" font-family="NanumGothic, Liberation Sans, sans-serif" stroke="#4D4D4D" stroke-width="0.3">1</tspan></text>
<text transform="translate(474.03,278.00) scale(1,1.1)" font-size="11.73" fill="#4D4D4D"><tspan x="0.00">x</tspan><tspan x="5.40" font-family="NanumGothic, Liberation Sans, sans-serif" stroke="#4D4D4D" stroke-width="0.3">1</tspan><tspan x="12.39">=0,x2=</tspan><tspan x="47.79" font-family="NanumGothic, Liberation Sans, sans-serif" stroke="#4D4D4D" stroke-width="0.3">1</tspan><tspan x="54.78">,x3=</tspan><tspan x="76.81" font-family="NanumGothic, Liberation Sans, sans-serif" stroke="#4D4D4D" stroke-width="0.3">1</tspan><tspan x="83.81">,x4=0,x5=</tspan><tspan x="134.86" font-family="NanumGothic, Liberation Sans, sans-serif" stroke="#4D4D4D" stroke-width="0.3">1</tspan><tspan x="141.85">,x6=0</tspan></text>
<text transform="translate(474.03,286.00) scale(1,1.1)" font-size="11.73" fill="#4D4D4D"><tspan x="0.00">x</tspan><tspan x="5.40" font-family="NanumGothic, Liberation Sans, sans-serif" stroke="#4D4D4D" stroke-width="0.3">1</tspan><tspan x="12.39">=0,x2=</tspan><tspan x="47.79" font-family="NanumGothic, Liberation Sans, sans-serif" stroke="#4D4D4D" stroke-width="0.3">1</tspan><tspan x="54.78">,x3=</tspan><tspan x="76.81" font-family="NanumGothic, Liberation Sans, sans-serif" stroke="#4D4D4D" stroke-width="0.3">1</tspan><tspan x="83.81">,x4=0,x5=0,x6=</tspan><tspan x="163.88" font-family="NanumGothic, Liberation Sans, sans-serif" stroke="#4D4D4D" stroke-width="0.3">1</tspan></text>
<text transform="translate(474.03,294.00) scale(1,1.1)" font-size="11.73" fill="#4D4D4D"><tspan x="0.00">x</tspan><tspan x="5.40" font-family="NanumGothic, Liberation Sans, sans-serif" stroke="#4D4D4D" stroke-width="0.3">1</tspan><tspan x="12.39">=0,x2=</tspan><tspan x="47.79" font-family="NanumGothic, Liberation Sans, sans-serif" stroke="#4D4D4D" stroke-width="0.3">1</tspan><tspan x="54.78">,x3=</tspan><tspan x="76.81" font-family="NanumGothic, Liberation Sans, sans-serif" stroke="#4D4D4D" stroke-width="0.3">1</tspan><tspan x="83.81">,x4=0,x5=0,x6=0</tspan></text>
<text transform="translate(474.03,302.00) scale(1,1.1)" font-size="11.73" fill="#4D4D4D"><tspan x="0.00">x</tspan><tspan x="5.40" font-family="NanumGothic, Liberation Sans, sans-serif" stroke="#4D4D4D" stroke-width="0.3">1</tspan><tspan x="12.39">=0,x2=</tspan><tspan x="47.79" font-family="NanumGothic, Liberation Sans, sans-serif" stroke="#4D4D4D" stroke-width="0.3">1</tspan><tspan x="54.78">,x3=0,x4=</tspan><tspan x="105.83" font-family="NanumGothic, Liberation Sans, sans-serif" stroke="#4D4D4D" stroke-width="0.3">1</tspan><tspan x="112.83">,x5=</tspan><tspan x="134.86" font-family="NanumGothic, Liberation Sans, sans-serif" stroke="#4D4D4D" stroke-width="0.3">1</tspan><tspan x="141.85">,x6=</tspan><tspan x="163.88" font-family="NanumGothic, Liberation Sans, sans-serif" stroke="#4D4D4D" stroke-width="0.3">1</tspan></text>
<text transform="translate(474.03,310.00) scale(1,1.1)" font-size="11.73" fill="#4D4D4D"><tspan x="0.00">x</tspan><tspan x="5.40" font-family="NanumGothic, Liberation Sans, sans-serif" stroke="#4D4D4D" stroke-width="0.3">1</tspan><tspan x="12.39">=0,x2=</tspan><tspan x="47.79" font-family="NanumGothic, Liberation Sans, sans-serif" stroke="#4D4D4D" stroke-width="0.3">1</tspan><tspan x="54.78">,x3=0,x4=</tspan><tspan x="105.83" font-family="NanumGothic, Liberation Sans, sans-serif" stroke="#4D4D4D" stroke-width="0.3">1</tspan><tspan x="112.83">,x5=</tspan><tspan x="134.86" font-family="NanumGothic, Liberation Sans, sans-serif" stroke="#4D4D4D" stroke-width="0.3">1</tspan><tspan x="141.85">,x6=0</tspan></text>
<text transform="translate(474.03,318.00) scale(1,1.1)" font-size="11.73" fill="#4D4D4D"><tspan x="0.00">x</tspan><tspan x="5.40" font-family="NanumGothic, Liberation Sans, sans-serif" stroke="#4D4D4D" stroke-width="0.3">1</tspan><tspan x="12.39">=0,x2=</tspan><tspan x="47.79" font-family="NanumGothic, Liberation Sans, sans-serif" stroke="#4D4D4D" stroke-width="0.3">1</tspan><tspan x="54.78">,x3=0,x4=</tspan><tspan x="105.83" font-family="NanumGothic, Liberation Sans, sans-serif" stroke="#4D4D4D" stroke-width="0.3">1</tspan><tspan x="112.83">,x5=0,x6=</tspan><tspan x="163.88" font-family="NanumGothic, Liberation Sans, sans-serif" stroke="#4D4D4D" stroke-width="0.3">1</tspan></text>
<text transform="translate(474.03,325.00) scale(1,1.1)" font-size="11.73" fill="#4D4D4D"><tspan x="0.00">x</tspan><tspan x="5.40" font-family="NanumGothic, Liberation Sans, sans-serif" stroke="#4D4D4D" stroke-width="0.3">1</tspan><tspan x="12.39">=0,x2=</tspan><tspan x="47.79" font-family="NanumGothic, Liberation Sans, sans-serif" stroke="#4D4D4D" stroke-width="0.3">1</tspan><tspan x="54.78">,x3=0,x4=0,x5=</tspan><tspan x="134.86" font-family="NanumGothic, Liberation Sans, sans-serif" stroke="#4D4D4D" stroke-width="0.3">1</tspan><tspan x="141.85">,x6=</tspan><tspan x="163.88" font-family="NanumGothic, Liberation Sans, sans-serif" stroke="#4D4D4D" stroke-width="0.3">1</tspan></text>
<text transform="translate(474.03,333.00) scale(1,1.1)" font-size="11.73" fill="#4D4D4D"><tspan x="0.00">x</tspan><tspan x="5.40" font-family="NanumGothic, Liberation Sans, sans-serif" stroke="#4D4D4D" stroke-width="0.3">1</tspan><tspan x="12.39">=0,x2=</tspan><tspan x="47.79" font-family="NanumGothic, Liberation Sans, sans-serif" stroke="#4D4D4D" stroke-width="0.3">1</tspan><tspan x="54.78">,x3=0,x4=0,x5=</tspan><tspan x="134.86" font-family="NanumGothic, Liberation Sans, sans-serif" stroke="#4D4D4D" stroke-width="0.3">1</tspan><tspan x="141.85">,x6=0</tspan></text>
<text transform="translate(474.03,341.00) scale(1,1.1)" font-size="11.73" fill="#4D4D4D"><tspan x="0.00">x</tspan><tspan x="5.40" font-family="NanumGothic, Liberation Sans, sans-serif" stroke="#4D4D4D" stroke-width="0.3">1</tspan><tspan x="12.39">=0,x2=</tspan><tspan x="47.79" font-family="NanumGothic, Liberation Sans, sans-serif" stroke="#4D4D4D" stroke-width="0.3">1</tspan><tspan x="54.78">,x3=0,x4=0,x5=0,x6=</tspan><tspan x="163.88" font-family="NanumGothic, Liberation Sans, sans-serif" stroke="#4D4D4D" stroke-width="0.3">1</tspan></text>
<text transform="translate(474.03,349.00) scale(1,1.1)" font-size="11.73" fill="#4D4D4D"><tspan x="0.00">x</tspan><tspan x="5.40" font-family="NanumGothic, Liberation Sans, sans-serif" stroke="#4D4D4D" stroke-width="0.3">1</tspan><tspan x="12.39">=0,x2=0,x3=</tspan><tspan x="76.81" font-family="NanumGothic, Liberation Sans, sans-serif" stroke="#4D4D4D" stroke-width="0.3">1</tspan><tspan x="83.81">,x4=</tspan><tspan x="105.83" font-family="NanumGothic, Liberation Sans, sans-serif" stroke="#4D4D4D" stroke-width="0.3">1</tspan><tspan x="112.83">,x5=</tspan><tspan x="134.86" font-family="NanumGothic, Liberation Sans, sans-serif" stroke="#4D4D4D" stroke-width="0.3">1</tspan><tspan x="141.85">,x6=0</tspan></text>
<text transform="translate(474.03,357.00) scale(1,1.1)" font-size="11.73" fill="#4D4D4D"><tspan x="0.00">x</tspan><tspan x="5.40" font-family="NanumGothic, Liberation Sans, sans-serif" stroke="#4D4D4D" stroke-width="0.3">1</tspan><tspan x="12.39">=0,x2=0,x3=</tspan><tspan x="76.81" font-family="NanumGothic, Liberation Sans, sans-serif" stroke="#4D4D4D" stroke-width="0.3">1</tspan><tspan x="83.81">,x4=</tspan><tspan x="105.83" font-family="NanumGothic, Liberation Sans, sans-serif" stroke="#4D4D4D" stroke-width="0.3">1</tspan><tspan x="112.83">,x5=0,x6=0</tspan></text>
<text transform="translate(474.03,365.00) scale(1,1.1)" font-size="11.73" fill="#4D4D4D"><tspan x="0.00">x</tspan><tspan x="5.40" font-family="NanumGothic, Liberation Sans, sans-serif" stroke="#4D4D4D" stroke-width="0.3">1</tspan><tspan x="12.39">=0,x2=0,x3=</tspan><tspan x="76.81" font-family="NanumGothic, Liberation Sans, sans-serif" stroke="#4D4D4D" stroke-width="0.3">1</tspan><tspan x="83.81">,x4=0,x5=</tspan><tspan x="134.86" font-family="NanumGothic, Liberation Sans, sans-serif" stroke="#4D4D4D" stroke-width="0.3">1</tspan><tspan x="141.85">,x6=0</tspan></text>
<text transform="translate(474.03,373.00) scale(1,1.1)" font-size="11.73" fill="#4D4D4D"><tspan x="0.00">x</tspan><tspan x="5.40" font-family="NanumGothic, Liberation Sans, sans-serif" stroke="#4D4D4D" stroke-width="0.3">1</tspan><tspan x="12.39">=0,x2=0,x3=</tspan><tspan x="76.81" font-family="NanumGothic, Liberation Sans, sans-serif" stroke="#4D4D4D" stroke-width="0.3">1</tspan><tspan x="83.81">,x4=0,x5=0,x6=</tspan><tspan x="163.88" font-family="NanumGothic, Liberation Sans, sans-serif" stroke="#4D4D4D" stroke-width="0.3">1</tspan></text>
<text transform="translate(474.03,380.00) scale(1,1.1)" font-size="11.73" fill="#4D4D4D"><tspan x="0.00">x</tspan><tspan x="5.40" font-family="NanumGothic, Liberation Sans, sans-serif" stroke="#4D4D4D" stroke-width="0.3">1</tspan><tspan x="12.39">=0,x2=0,x3=</tspan><tspan x="76.81" font-family="NanumGothic, Liberation Sans, sans-serif" stroke="#4D4D4D" stroke-width="0.3">1</tspan><tspan x="83.81">,x4=0,x5=0,x6=0</tspan></text>
<text transform="translate(474.03,388.00) scale(1,1.1)" font-size="11.73" fill="#4D4D4D"><tspan x="0.00">x</tspan><tspan x="5.40" font-family="NanumGothic, Liberation Sans, sans-serif" stroke="#4D4D4D" stroke-width="0.3">1</tspan><tspan x="12.39">=0,x2=0,x3=0,x4=</tspan><tspan x="105.83" font-family="NanumGothic, Liberation Sans, sans-serif" stroke="#4D4D4D" stroke-width="0.3">1</tspan><tspan x="112.83">,x5=</tspan><tspan x="134.86" font-family="NanumGothic, Liberation Sans, sans-serif" stroke="#4D4D4D" stroke-width="0.3">1</tspan><tspan x="141.85">,x6=</tspan><tspan x="163.88" font-family="NanumGothic, Liberation Sans, sans-serif" stroke="#4D4D4D" stroke-width="0.3">1</tspan></text>
<text transform="translate(474.03,396.00) scale(1,1.1)" font-size="11.73" fill="#4D4D4D"><tspan x="0.00">x</tspan><tspan x="5.40" font-family="NanumGothic, Liberation Sans, sans-serif" stroke="#4D4D4D" stroke-width="0.3">1</tspan><tspan x="12.39">=0,x2=0,x3=0,x4=</tspan><tspan x="105.83" font-family="NanumGothic, Liberation Sans, sans-serif" stroke="#4D4D4D" stroke-width="0.3">1</tspan><tspan x="112.83">,x5=0,x6=</tspan><tspan x="163.88" font-family="NanumGothic, Liberation Sans, sans-serif" stroke="#4D4D4D" stroke-width="0.3">1</tspan></text>
<text transform="translate(474.03,404.00) scale(1,1.1)" font-size="11.73" fill="#4D4D4D"><tspan x="0.00">x</tspan><tspan x="5.40" font-family="NanumGothic, Liberation Sans, sans-serif" stroke="#4D4D4D" stroke-width="0.3">1</tspan><tspan x="12.39">=0,x2=0,x3=0,x4=</tspan><tspan x="105.83" font-family="NanumGothic, Liberation Sans, sans-serif" stroke="#4D4D4D" stroke-width="0.3">1</tspan><tspan x="112.83">,x5=0,x6=0</tspan></text>
<text transform="translate(474.03,412.00) scale(1,1.1)" font-size="11.73" fill="#4D4D4D"><tspan x="0.00">x</tspan><tspan x="5.40" font-family="NanumGothic, Liberation Sans, sans-serif" stroke="#4D4D4D" stroke-width="0.3">1</tspan><tspan x="12.39">=0,x2=0,x3=0,x4=0,x5=</tspan><tspan x="134.86" font-family="NanumGothic, Liberation Sans, sans-serif" stroke="#4D4D4D" stroke-width="0.3">1</tspan><tspan x="141.85">,x6=</tspan><tspan x="163.88" font-family="NanumGothic, Liberation Sans, sans-serif" stroke="#4D4D4D" stroke-width="0.3">1</tspan></text>
<text transform="translate(474.03,420.00) scale(1,1.1)" font-size="11.73" fill="#4D4D4D"><tspan x="0.00">x</tspan><tspan x="5.40" font-family="NanumGothic, Liberation Sans, sans-serif" stroke="#4D4D4D" stroke-width="0.3">1</tspan><tspan x="12.39">=0,x2=0,x3=0,x4=0,x5=</tspan><tspan x="134.86" font-family="NanumGothic, Liberation Sans, sans-serif" stroke="#4D4D4D" stroke-width="0.3">1</tspan><tspan x="141.85">,x6=0</tspan></text>
<text transform="translate(474.03,428.00) scale(1,1.1)" font-size="11.73" fill="#4D4D4D"><tspan x="0.00">x</tspan><tspan x="5.40" font-family="NanumGothic, Liberation Sans, sans-serif" stroke="#4D4D4D" stroke-width="0.3">1</tspan><tspan x="12.39">=0,x2=0,x3=0,x4=0,x5=0,x6=</tspan><tspan x="163.88" font-family="NanumGothic, Liberation Sans, sans-serif" stroke="#4D4D4D" stroke-width="0.3">1</tspan></text>
<text transform="translate(474.03,435.00) scale(1,1.1)" font-size="11.73" fill="#4D4D4D"><tspan x="0.00">x</tspan><tspan x="5.40" font-family="NanumGothic, Liberation Sans, sans-serif" stroke="#4D4D4D" stroke-width="0.3">1</tspan><tspan x="12.39">=0,x2=0,x3=0,x4=0,x5=0,x6=0</tspan></text>
<g fill="#333">
<rect x="648" y="37" width="3" height="1"/>
<rect x="648" y="45" width="3" height="1"/>
<rect x="648" y="53" width="3" height="1"/>
<rect x="648" y="61" width="3" height="1"/>
<rect x="648" y="68" width="3" height="1"/>
<rect x="648" y="76" width="3" height="1"/>
<rect x="648" y="84" width="3" height="1"/>
<rect x="648" y="92" width="3" height="1"/>
<rect x="648" y="100" width="3" height="1"/>
<rect x="648" y="108" width="3" height="1"/>
<rect x="648" y="115" width="3" height="1"/>
<rect x="648" y="123" width="3" height="1"/>
<rect x="648" y="131" width="3" height="1"/>
<rect x="648" y="139" width="3" height="1"/>
<rect x="648" y="147" width="3" height="1"/>
<rect x="648" y="155" width="3" height="1"/>
<rect x="648" y="162" width="3" height="1"/>
<rect x="648" y="170" width="3" height="1"/>
<rect x="648" y="178" width="3" height="1"/>
<rect x="648" y="186" width="3" height="1"/>
<rect x="648" y="194" width="3" height="1"/>
<rect x="648" y="202" width="3" height="1"/>
<rect x="648" y="210" width="3" height="1"/>
<rect x="648" y="217" width="3" height="1"/>
<rect x="648" y="225" width="3" height="1"/>
<rect x="648" y="233" width="3" height="1"/>
<rect x="648" y="241" width="3" height="1"/>
<rect x="648" y="249" width="3" height="1"/>
<rect x="648" y="257" width="3" height="1"/>
<rect x="648" y="264" width="3" height="1"/>
<rect x="648" y="272" width="3" height="1"/>
<rect x="648" y="280" width="3" height="1"/>
<rect x="648" y="288" width="3" height="1"/>
<rect x="648" y="296" width="3" height="1"/>
<rect x="648" y="304" width="3" height="1"/>
<rect x="648" y="312" width="3" height="1"/>
<rect x="648" y="319" width="3" height="1"/>
<rect x="648" y="327" width="3" height="1"/>
<rect x="648" y="335" width="3" height="1"/>
<rect x="648" y="343" width="3" height="1"/>
<rect x="648" y="351" width="3" height="1"/>
<rect x="648" y="359" width="3" height="1"/>
<rect x="648" y="366" width="3" height="1"/>
<rect x="648" y="374" width="3" height="1"/>
<rect x="648" y="382" width="3" height="1"/>
<rect x="648" y="390" width="3" height="1"/>
<rect x="648" y="398" width="3" height="1"/>
<rect x="648" y="406" width="3" height="1"/>
<rect x="648" y="413" width="3" height="1"/>
<rect x="648" y="421" width="3" height="1"/>
<rect x="648" y="429" width="3" height="1"/>
</g>
<rect x="652" y="32.5" width="1" height="401.5" fill="#EBEBEB"/>
<rect x="661" y="32.5" width="1" height="401.5" fill="#EBEBEB"/>
<rect x="655" y="32.5" width="1" height="401.5" fill="#8c8c8c"/>
<g clip-path="url(#c448)">
<path d="M655 32h3v1h-3zM653 33h7v1h-7zM652 34h9v1h-9zM652 35h9v1h-9zM651 36h11v1h-11zM651 37h11v1h-11zM651 38h11v1h-11zM652 39h9v1h-9zM652 40h9v1h-9zM653 41h7v1h-7zM655 42h3v1h-3z"/>
<path d="M653 43h4v1h-4zM652 44h6v1h-6zM652 45h6v1h-6zM653 46h5v1h-5zM653 47h4v1h-4z"/>
<path d="M654 50h4v1h-4zM653 51h6v1h-6zM652 52h8v1h-8zM652 53h8v1h-8zM653 54h6v1h-6zM653 55h6v1h-6zM654 56h4v1h-4z"/>
<path d="M654 58h2v1h-2zM653 59h4v1h-4zM652 60h6v1h-6zM652 61h6v1h-6zM653 62h4v1h-4zM654 63h2v1h-2z"/>
<path d="M657 65h2v1h-2zM655 66h5v1h-5zM654 67h7v1h-7zM654 68h7v1h-7zM654 69h7v1h-7zM655 70h6v1h-6zM655 71h5v1h-5z"/>
<path d="M657 74h2v1h-2zM656 75h4v1h-4zM655 76h5v1h-5zM655 77h5v1h-5zM656 78h3v1h-3z"/>
<path d="M653 82h4v1h-4zM653 83h5v1h-5zM652 84h6v1h-6zM652 85h6v1h-6zM653 86h4v1h-4z"/>
<path d="M656 89h4v1h-4zM655 90h6v1h-6zM654 91h7v1h-7zM654 92h7v1h-7zM654 93h7v1h-7zM655 94h5v1h-5zM656 95h3v1h-3z"/>
<path d="M654 98h3v1h-3zM653 99h5v1h-5zM653 100h5v1h-5zM653 101h5v1h-5zM655 102h2v1h-2z"/>
<path d="M656 105h2v1h-2zM655 106h4v1h-4zM654 107h6v1h-6zM654 108h6v1h-6zM654 109h6v1h-6zM655 110h4v1h-4z"/>
<path d="M654 114h2v1h-2zM653 115h4v1h-4zM653 116h4v1h-4zM654 117h2v1h-2z"/>
<path d="M656 121h1v1h-1zM654 122h5v1h-5zM654 123h5v1h-5zM654 124h5v1h-5zM655 125h3v1h-3z"/>
<path d="M654 127h5v1h-5zM652 128h8v1h-8zM652 129h9v1h-9zM651 130h10v1h-10zM651 131h10v1h-10zM651 132h10v1h-10zM652 133h9v1h-9zM652 134h8v1h-8zM653 135h6v1h-6zM656 136h1v1h-1z"/>
<path d="M654 134h6v1h-6zM653 135h8v1h-8zM652 136h10v1h-10zM652 137h10v1h-10zM651 138h12v1h-12zM651 139h12v1h-12zM651 140h12v1h-12zM652 141h10v1h-10zM652 142h10v1h-10zM653 143h8v1h-8zM654 144h6v1h-6z"/>
<path d="M654 144h4v1h-4zM653 145h6v1h-6zM652 146h8v1h-8zM652 147h8v1h-8zM653 148h6v1h-6zM653 149h6v1h-6zM654 150h4v1h-4z"/>
<path d="M654 150h5v1h-5zM653 151h7v1h-7zM652 152h9v1h-9zM652 153h9v1h-9zM651 154h11v1h-11zM651 155h11v1h-11zM651 156h11v1h-11zM652 157h9v1h-9zM653 158h7v1h-7zM654 159h5v1h-5z"/>
<path d="M654 160h5v1h-5zM654 161h5v1h-5zM653 162h7v1h-7zM653 163h7v1h-7zM654 164h5v1h-5zM655 165h3v1h-3z"/>
<path d="M655 167h2v1h-2zM653 168h6v1h-6zM653 169h6v1h-6zM652 170h8v1h-8zM652 171h8v1h-8zM653 172h6v1h-6zM654 173h4v1h-4z"/>
<path d="M654 176h4v1h-4zM654 177h4v1h-4zM653 178h6v1h-6zM653 179h6v1h-6zM654 180h4v1h-4z"/>
<path d="M655 183h3v1h-3zM654 184h5v1h-5zM653 185h7v1h-7zM653 186h7v1h-7zM653 187h7v1h-7zM654 188h5v1h-5zM655 189h3v1h-3z"/>
<path d="M654 190h5v1h-5zM653 191h7v1h-7zM653 192h7v1h-7zM652 193h9v1h-9zM652 194h9v1h-9zM652 195h9v1h-9zM653 196h7v1h-7zM653 197h7v1h-7zM655 198h3v1h-3z"/>
<path d="M654 200h4v1h-4zM653 201h6v1h-6zM653 202h6v1h-6zM654 203h4v1h-4zM655 204h2v1h-2z"/>
<path d="M654 207h4v1h-4zM653 208h6v1h-6zM653 209h7v1h-7zM653 210h7v1h-7zM653 211h6v1h-6zM654 212h5v1h-5z"/>
<path d="M655 216h3v1h-3zM654 217h5v1h-5zM654 218h5v1h-5zM655 219h3v1h-3z"/>
<path d="M654 224h4v1h-4zM654 225h4v1h-4zM654 226h4v1h-4zM655 227h2v1h-2z"/>
<path d="M656 225h2v1h-2zM653 226h8v1h-8zM652 227h10v1h-10zM651 228h12v1h-12zM650 229h14v1h-14zM650 230h15v1h-15zM649 231h16v1h-16zM649 232h16v1h-16zM649 233h16v1h-16zM649 234h16v1h-16zM649 235h16v1h-16zM650 236h15v1h-15zM650 237h14v1h-14zM651 238h13v1h-13zM652 239h11v1h-11zM653 240h8v1h-8zM655 241h4v1h-4z"/>
<path d="M655 236h2v1h-2zM653 237h6v1h-6zM652 238h8v1h-8zM652 239h9v1h-9zM651 240h10v1h-10zM651 241h10v1h-10zM651 242h10v1h-10zM652 243h9v1h-9zM652 244h8v1h-8zM653 245h6v1h-6z"/>
<path d="M654 244h6v1h-6zM653 245h8v1h-8zM652 246h10v1h-10zM652 247h10v1h-10zM651 248h12v1h-12zM651 249h12v1h-12zM651 250h12v1h-12zM652 251h10v1h-10zM652 252h10v1h-10zM653 253h8v1h-8zM655 254h4v1h-4z"/>
<path d="M654 253h4v1h-4zM653 254h6v1h-6zM653 255h7v1h-7zM652 256h8v1h-8zM652 257h8v1h-8zM652 258h8v1h-8zM653 259h7v1h-7zM654 260h5v1h-5z"/>
<path d="M654 260h5v1h-5zM653 261h7v1h-7zM652 262h9v1h-9zM652 263h9v1h-9zM651 264h11v1h-11zM651 265h11v1h-11zM652 266h9v1h-9zM652 267h9v1h-9zM653 268h7v1h-7zM654 269h5v1h-5z"/>
<path d="M657 269h1v1h-1zM655 270h5v1h-5zM654 271h7v1h-7zM654 272h7v1h-7zM654 273h7v1h-7zM655 274h5v1h-5zM655 275h5v1h-5z"/>
<path d="M654 277h4v1h-4zM653 278h6v1h-6zM652 279h8v1h-8zM652 280h8v1h-8zM652 281h8v1h-8zM653 282h6v1h-6zM654 283h4v1h-4z"/>
<path d="M654 286h4v1h-4zM653 287h6v1h-6zM653 288h6v1h-6zM653 289h6v1h-6zM654 290h4v1h-4z"/>
<path d="M655 291h3v1h-3zM653 292h7v1h-7zM652 293h9v1h-9zM652 294h9v1h-9zM651 295h11v1h-11zM651 296h11v1h-11zM651 297h11v1h-11zM652 298h9v1h-9zM652 299h9v1h-9zM653 300h7v1h-7zM656 301h1v1h-1z"/>
<path d="M655 301h3v1h-3zM654 302h5v1h-5zM653 303h7v1h-7zM653 304h7v1h-7zM654 305h5v1h-5zM654 306h5v1h-5z"/>
<path d="M655 308h2v1h-2zM653 309h6v1h-6zM653 310h6v1h-6zM652 311h8v1h-8zM652 312h8v1h-8zM653 313h6v1h-6zM653 314h6v1h-6zM655 315h2v1h-2z"/>
<path d="M654 317h5v1h-5zM653 318h6v1h-6zM653 319h7v1h-7zM653 320h7v1h-7zM654 321h5v1h-5zM654 322h4v1h-4z"/>
<path d="M654 325h3v1h-3zM653 326h5v1h-5zM653 327h5v1h-5zM653 328h5v1h-5zM654 329h3v1h-3z"/>
<path d="M654 332h4v1h-4zM653 333h6v1h-6zM652 334h7v1h-7zM652 335h7v1h-7zM652 336h7v1h-7zM653 337h6v1h-6zM654 338h4v1h-4z"/>
<path d="M652 335h8v1h-8zM651 336h10v1h-10zM650 337h12v1h-12zM649 338h14v1h-14zM648 339h16v1h-16zM648 340h16v1h-16zM648 341h16v1h-16zM647 342h18v1h-18zM647 343h18v1h-18zM647 344h18v1h-18zM648 345h16v1h-16zM648 346h16v1h-16zM648 347h16v1h-16zM649 348h14v1h-14zM650 349h12v1h-12zM651 350h10v1h-10zM653 351h6v1h-6z"/>
<path d="M656 345h2v1h-2zM653 346h8v1h-8zM652 347h10v1h-10zM652 348h10v1h-10zM651 349h12v1h-12zM651 350h12v1h-12zM651 351h12v1h-12zM651 352h12v1h-12zM652 353h10v1h-10zM652 354h10v1h-10zM653 355h8v1h-8zM654 356h6v1h-6z"/>
<path d="M654 354h5v1h-5zM653 355h7v1h-7zM652 356h9v1h-9zM652 357h9v1h-9zM651 358h10v1h-10zM651 359h10v1h-10zM652 360h9v1h-9zM652 361h9v1h-9zM653 362h7v1h-7zM654 363h5v1h-5z"/>
<path d="M655 361h4v1h-4zM653 362h8v1h-8zM652 363h10v1h-10zM652 364h10v1h-10zM651 365h12v1h-12zM651 366h12v1h-12zM651 367h12v1h-12zM651 368h12v1h-12zM652 369h10v1h-10zM652 370h10v1h-10zM653 371h8v1h-8zM655 372h4v1h-4z"/>
<path d="M655 369h5v1h-5zM654 370h7v1h-7zM653 371h9v1h-9zM652 372h11v1h-11zM652 373h11v1h-11zM652 374h11v1h-11zM652 375h11v1h-11zM652 376h11v1h-11zM652 377h10v1h-10zM653 378h9v1h-9zM654 379h7v1h-7z"/>
<path d="M655 376h6v1h-6zM653 377h10v1h-10zM653 378h10v1h-10zM652 379h12v1h-12zM652 380h12v1h-12zM651 381h14v1h-14zM651 382h14v1h-14zM651 383h14v1h-14zM651 384h14v1h-14zM652 385h12v1h-12zM652 386h12v1h-12zM653 387h10v1h-10zM655 388h6v1h-6z"/>
<path d="M654 385h6v1h-6zM653 386h8v1h-8zM652 387h10v1h-10zM651 388h12v1h-12zM651 389h12v1h-12zM651 390h12v1h-12zM651 391h12v1h-12zM651 392h12v1h-12zM652 393h10v1h-10zM653 394h8v1h-8zM654 395h6v1h-6z"/>
<path d="M654 395h4v1h-4zM653 396h6v1h-6zM653 397h6v1h-6zM653 398h6v1h-6zM653 399h6v1h-6zM653 400h5v1h-5zM655 401h2v1h-2z"/>
<path d="M654 401h5v1h-5zM653 402h7v1h-7zM652 403h9v1h-9zM651 404h10v1h-10zM651 405h11v1h-11zM651 406h11v1h-11zM651 407h10v1h-10zM652 408h9v1h-9zM652 409h8v1h-8zM654 410h5v1h-5z"/>
<path d="M654 411h5v1h-5zM653 412h6v1h-6zM653 413h7v1h-7zM653 414h7v1h-7zM653 415h6v1h-6zM654 416h5v1h-5z"/>
<path d="M654 418h4v1h-4zM653 419h6v1h-6zM653 420h6v1h-6zM652 421h8v1h-8zM652 422h8v1h-8zM653 423h6v1h-6zM654 424h4v1h-4z"/>
<path d="M654 427h4v1h-4zM653 428h6v1h-6zM653 429h6v1h-6zM653 430h6v1h-6zM654 431h4v1h-4z"/>
</g>
<path shape-rendering="crispEdges" d="M651 225 L652.4 224 L659.5 224 L661.4 226.2 L663.3 228.4 L664.9 231 L664.9 234.5 L651 234.5 Z"/>
<g shape-rendering="crispEdges"><rect x="652.4" y="224" width="12.5" height="1"/><rect x="664" y="223" width="1" height="2"/></g>
<rect x="651" y="434" width="1" height="4" fill="#333"/>
<rect x="655" y="434" width="1" height="4" fill="#333"/>
<rect x="658" y="434" width="1" height="4" fill="#333"/>
<rect x="662" y="434" width="1" height="4" fill="#333"/>
<text transform="translate(648.20,451.80) scale(1,1.1)" font-size="11.73" fill="#4D4D4D" text-anchor="middle">-25</text>
<text transform="translate(655.30,451.80) scale(1,1.1)" font-size="11.73" fill="#4D4D4D" text-anchor="middle">0</text>
<text transform="translate(658.80,451.80) scale(1,1.1)" font-size="11.73" fill="#4D4D4D" text-anchor="middle">25</text>
<text transform="translate(662.60,451.80) scale(1,1.1)" font-size="11.73" fill="#4D4D4D" text-anchor="middle">50</text>
<text x="658.05" y="469.7" text-anchor="middle" font-size="14.67" fill="#000">msr</text>
</svg>
</body></html>
